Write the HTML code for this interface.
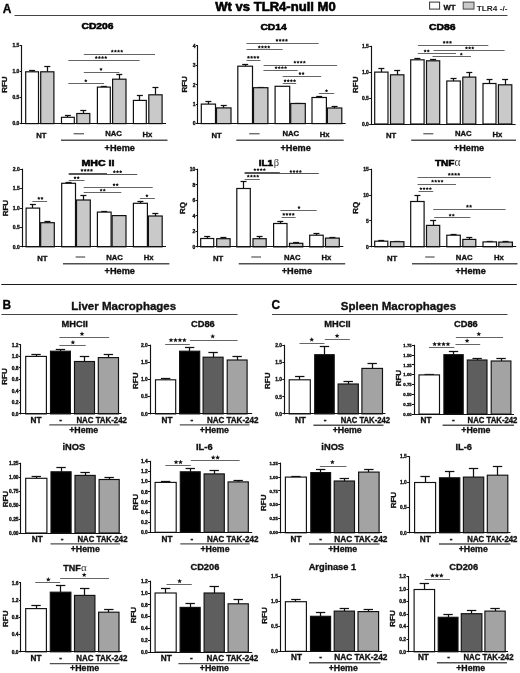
<!DOCTYPE html>
<html><head><meta charset="utf-8"><title>Figure</title>
<style>
html,body{margin:0;padding:0;background:#fff;}
body{width:520px;height:673px;overflow:hidden;font-family:"Liberation Sans",sans-serif;}
text{stroke:#111;stroke-width:0.34px;} text.h{stroke:#000;stroke-width:0.55px;} text.n{stroke-width:0.1px;} text.g{stroke:none;}
svg{display:block;font-family:"Liberation Sans",sans-serif;filter:blur(0.35px);}
</style></head><body>
<svg width="520" height="673" viewBox="0 0 520 673">
<rect x="0" y="0" width="520" height="673" fill="#ffffff"/>
<line x1="32.50" y1="71.80" x2="32.50" y2="70.00" stroke="#111" stroke-width="1.25"/>
<line x1="29.10" y1="70.50" x2="35.10" y2="70.50" stroke="#111" stroke-width="1.25"/>
<rect x="25.70" y="71.80" width="12.80" height="51.80" fill="#ffffff" stroke="#111" stroke-width="1.2"/>
<line x1="47.50" y1="71.80" x2="47.50" y2="66.80" stroke="#111" stroke-width="1.25"/>
<line x1="44.30" y1="66.50" x2="50.30" y2="66.50" stroke="#111" stroke-width="1.25"/>
<rect x="40.70" y="71.80" width="13.20" height="51.80" fill="#c9c9c9" stroke="#111" stroke-width="1.2"/>
<line x1="67.50" y1="117.30" x2="67.50" y2="115.50" stroke="#111" stroke-width="1.25"/>
<line x1="64.90" y1="115.50" x2="70.90" y2="115.50" stroke="#111" stroke-width="1.25"/>
<rect x="61.50" y="117.30" width="12.80" height="6.30" fill="#ffffff" stroke="#111" stroke-width="1.2"/>
<line x1="83.50" y1="113.50" x2="83.50" y2="110.30" stroke="#111" stroke-width="1.25"/>
<line x1="80.30" y1="110.50" x2="86.30" y2="110.50" stroke="#111" stroke-width="1.25"/>
<rect x="76.80" y="113.50" width="13.00" height="10.10" fill="#c9c9c9" stroke="#111" stroke-width="1.2"/>
<line x1="103.50" y1="87.10" x2="103.50" y2="86.20" stroke="#111" stroke-width="1.25"/>
<line x1="100.85" y1="86.50" x2="106.85" y2="86.50" stroke="#111" stroke-width="1.25"/>
<rect x="97.40" y="87.10" width="12.90" height="36.50" fill="#ffffff" stroke="#111" stroke-width="1.2"/>
<line x1="119.50" y1="79.20" x2="119.50" y2="74.60" stroke="#111" stroke-width="1.25"/>
<line x1="116.30" y1="74.50" x2="122.30" y2="74.50" stroke="#111" stroke-width="1.25"/>
<rect x="112.60" y="79.20" width="13.40" height="44.40" fill="#c9c9c9" stroke="#111" stroke-width="1.2"/>
<line x1="139.50" y1="100.40" x2="139.50" y2="95.80" stroke="#111" stroke-width="1.25"/>
<line x1="136.85" y1="95.50" x2="142.85" y2="95.50" stroke="#111" stroke-width="1.25"/>
<rect x="133.40" y="100.40" width="12.90" height="23.20" fill="#ffffff" stroke="#111" stroke-width="1.2"/>
<line x1="155.50" y1="94.80" x2="155.50" y2="87.70" stroke="#111" stroke-width="1.25"/>
<line x1="152.45" y1="87.50" x2="158.45" y2="87.50" stroke="#111" stroke-width="1.25"/>
<rect x="148.80" y="94.80" width="13.30" height="28.80" fill="#c9c9c9" stroke="#111" stroke-width="1.2"/>
<line x1="21.50" y1="45.10" x2="21.50" y2="124.10" stroke="#111" stroke-width="1.15"/>
<line x1="21.20" y1="123.50" x2="166.00" y2="123.50" stroke="#111" stroke-width="1.15"/>
<line x1="19.70" y1="45.50" x2="21.70" y2="45.50" stroke="#111" stroke-width="1.0"/>
<text x="19.40" y="47.40" font-size="5.0" text-anchor="end" font-weight="bold" fill="#111" >1.5</text>
<line x1="19.70" y1="71.50" x2="21.70" y2="71.50" stroke="#111" stroke-width="1.0"/>
<text x="19.40" y="73.40" font-size="5.0" text-anchor="end" font-weight="bold" fill="#111" >1.0</text>
<line x1="19.70" y1="97.50" x2="21.70" y2="97.50" stroke="#111" stroke-width="1.0"/>
<text x="19.40" y="99.40" font-size="5.0" text-anchor="end" font-weight="bold" fill="#111" >0.5</text>
<line x1="19.70" y1="123.50" x2="21.70" y2="123.50" stroke="#111" stroke-width="1.0"/>
<text x="19.40" y="125.40" font-size="5.0" text-anchor="end" font-weight="bold" fill="#111" >0.0</text>
<line x1="83.80" y1="54.50" x2="155.00" y2="54.50" stroke="#555555" stroke-width="0.9"/>
<polygon points="112.28,49.46 112.82,50.41 113.89,50.64 113.16,51.45 113.27,52.54 112.28,52.10 111.28,52.54 111.39,51.45 110.66,50.64 111.73,50.41" fill="#151515"/>
<polygon points="115.42,49.46 115.97,50.41 117.04,50.64 116.31,51.45 116.42,52.54 115.42,52.10 114.43,52.54 114.54,51.45 113.81,50.64 114.88,50.41" fill="#151515"/>
<polygon points="118.58,49.46 119.12,50.41 120.19,50.64 119.46,51.45 119.57,52.54 118.58,52.10 117.58,52.54 117.69,51.45 116.96,50.64 118.03,50.41" fill="#151515"/>
<polygon points="121.72,49.46 122.27,50.41 123.34,50.64 122.61,51.45 122.72,52.54 121.72,52.10 120.73,52.54 120.84,51.45 120.11,50.64 121.18,50.41" fill="#151515"/>
<line x1="68.30" y1="60.50" x2="139.60" y2="60.50" stroke="#555555" stroke-width="0.9"/>
<polygon points="96.28,55.86 96.82,56.81 97.89,57.04 97.16,57.85 97.27,58.94 96.28,58.50 95.28,58.94 95.39,57.85 94.66,57.04 95.73,56.81" fill="#151515"/>
<polygon points="99.42,55.86 99.97,56.81 101.04,57.04 100.31,57.85 100.42,58.94 99.42,58.50 98.43,58.94 98.54,57.85 97.81,57.04 98.88,56.81" fill="#151515"/>
<polygon points="102.58,55.86 103.12,56.81 104.19,57.04 103.46,57.85 103.57,58.94 102.58,58.50 101.58,58.94 101.69,57.85 100.96,57.04 102.03,56.81" fill="#151515"/>
<polygon points="105.72,55.86 106.27,56.81 107.34,57.04 106.61,57.85 106.72,58.94 105.72,58.50 104.73,58.94 104.84,57.85 104.11,57.04 105.18,56.81" fill="#151515"/>
<line x1="83.80" y1="72.50" x2="119.40" y2="72.50" stroke="#555555" stroke-width="0.9"/>
<polygon points="101.00,67.66 101.55,68.61 102.62,68.84 101.89,69.65 102.00,70.74 101.00,70.30 100.00,70.74 100.11,69.65 99.38,68.84 100.45,68.61" fill="#151515"/>
<line x1="68.30" y1="83.50" x2="104.00" y2="83.50" stroke="#555555" stroke-width="0.9"/>
<polygon points="85.80,79.06 86.35,80.01 87.42,80.24 86.69,81.05 86.80,82.14 85.80,81.70 84.80,82.14 84.91,81.05 84.18,80.24 85.25,80.01" fill="#151515"/>
<text x="81.50" y="29.40" font-size="9.2" text-anchor="start" font-weight="bold" fill="#000" class="h" textLength="32.0" lengthAdjust="spacingAndGlyphs">CD206</text>
<text transform="translate(7.41,84.60) rotate(-90)" font-size="8.0" text-anchor="middle" font-weight="bold" fill="#111">RFU</text>
<text x="41.30" y="137.70" font-size="7.7" text-anchor="middle" font-weight="bold" fill="#111">NT</text>
<line x1="73.60" y1="133.80" x2="84.00" y2="133.80" stroke="#333" stroke-width="1.0"/>
<text x="113.60" y="136.30" font-size="7.7" text-anchor="middle" font-weight="bold" fill="#111">NAC</text>
<text x="147.30" y="137.00" font-size="7.7" text-anchor="middle" font-weight="bold" fill="#111">Hx</text>
<line x1="61.00" y1="140.30" x2="167.50" y2="140.30" stroke="#505050" stroke-width="1.4"/>
<text x="119.80" y="151.10" font-size="9.2" text-anchor="middle" font-weight="bold" fill="#111" >+Heme</text>
<line x1="208.50" y1="104.10" x2="208.50" y2="101.50" stroke="#111" stroke-width="1.25"/>
<line x1="205.40" y1="101.50" x2="211.40" y2="101.50" stroke="#111" stroke-width="1.25"/>
<rect x="201.30" y="104.10" width="14.20" height="19.50" fill="#ffffff" stroke="#111" stroke-width="1.2"/>
<line x1="223.50" y1="107.90" x2="223.50" y2="105.60" stroke="#111" stroke-width="1.25"/>
<line x1="220.75" y1="105.50" x2="226.75" y2="105.50" stroke="#111" stroke-width="1.25"/>
<rect x="216.50" y="107.90" width="14.50" height="15.70" fill="#c9c9c9" stroke="#111" stroke-width="1.2"/>
<line x1="245.50" y1="66.20" x2="245.50" y2="64.90" stroke="#111" stroke-width="1.25"/>
<line x1="242.15" y1="64.50" x2="248.15" y2="64.50" stroke="#111" stroke-width="1.25"/>
<rect x="237.80" y="66.20" width="14.70" height="57.40" fill="#ffffff" stroke="#111" stroke-width="1.2"/>
<line x1="260.50" y1="87.70" x2="260.50" y2="87.10" stroke="#111" stroke-width="1.25"/>
<line x1="257.70" y1="87.50" x2="263.70" y2="87.50" stroke="#111" stroke-width="1.25"/>
<rect x="253.50" y="87.70" width="14.40" height="35.90" fill="#c9c9c9" stroke="#111" stroke-width="1.2"/>
<rect x="275.10" y="86.30" width="14.60" height="37.30" fill="#ffffff" stroke="#111" stroke-width="1.2"/>
<line x1="298.50" y1="103.50" x2="298.50" y2="103.00" stroke="#111" stroke-width="1.25"/>
<line x1="295.00" y1="103.50" x2="301.00" y2="103.50" stroke="#111" stroke-width="1.25"/>
<rect x="290.70" y="103.50" width="14.60" height="20.10" fill="#c9c9c9" stroke="#111" stroke-width="1.2"/>
<line x1="319.50" y1="97.50" x2="319.50" y2="96.30" stroke="#111" stroke-width="1.25"/>
<line x1="316.20" y1="96.50" x2="322.20" y2="96.50" stroke="#111" stroke-width="1.25"/>
<rect x="312.00" y="97.50" width="14.40" height="26.10" fill="#ffffff" stroke="#111" stroke-width="1.2"/>
<line x1="334.50" y1="108.00" x2="334.50" y2="106.30" stroke="#111" stroke-width="1.25"/>
<line x1="331.60" y1="106.50" x2="337.60" y2="106.50" stroke="#111" stroke-width="1.25"/>
<rect x="327.40" y="108.00" width="14.40" height="15.60" fill="#c9c9c9" stroke="#111" stroke-width="1.2"/>
<line x1="197.50" y1="45.30" x2="197.50" y2="124.10" stroke="#111" stroke-width="1.15"/>
<line x1="197.40" y1="123.50" x2="345.60" y2="123.50" stroke="#111" stroke-width="1.15"/>
<line x1="195.90" y1="45.50" x2="197.90" y2="45.50" stroke="#111" stroke-width="1.0"/>
<text x="195.60" y="47.60" font-size="5.0" text-anchor="end" font-weight="bold" fill="#111" >4</text>
<line x1="195.90" y1="65.50" x2="197.90" y2="65.50" stroke="#111" stroke-width="1.0"/>
<text x="195.60" y="67.05" font-size="5.0" text-anchor="end" font-weight="bold" fill="#111" >3</text>
<line x1="195.90" y1="84.50" x2="197.90" y2="84.50" stroke="#111" stroke-width="1.0"/>
<text x="195.60" y="86.50" font-size="5.0" text-anchor="end" font-weight="bold" fill="#111" >2</text>
<line x1="195.90" y1="104.50" x2="197.90" y2="104.50" stroke="#111" stroke-width="1.0"/>
<text x="195.60" y="105.95" font-size="5.0" text-anchor="end" font-weight="bold" fill="#111" >1</text>
<line x1="195.90" y1="123.50" x2="197.90" y2="123.50" stroke="#111" stroke-width="1.0"/>
<text x="195.60" y="125.40" font-size="5.0" text-anchor="end" font-weight="bold" fill="#111" >0</text>
<line x1="246.50" y1="43.50" x2="318.70" y2="43.50" stroke="#555555" stroke-width="0.9"/>
<polygon points="276.97,38.66 277.52,39.61 278.59,39.84 277.86,40.65 277.97,41.74 276.97,41.30 275.98,41.74 276.09,40.65 275.36,39.84 276.43,39.61" fill="#151515"/>
<polygon points="280.12,38.66 280.67,39.61 281.74,39.84 281.01,40.65 281.12,41.74 280.12,41.30 279.13,41.74 279.24,40.65 278.51,39.84 279.58,39.61" fill="#151515"/>
<polygon points="283.27,38.66 283.82,39.61 284.89,39.84 284.16,40.65 284.27,41.74 283.27,41.30 282.28,41.74 282.39,40.65 281.66,39.84 282.73,39.61" fill="#151515"/>
<polygon points="286.43,38.66 286.97,39.61 288.04,39.84 287.31,40.65 287.42,41.74 286.43,41.30 285.43,41.74 285.54,40.65 284.81,39.84 285.88,39.61" fill="#151515"/>
<line x1="246.50" y1="49.50" x2="282.70" y2="49.50" stroke="#555555" stroke-width="0.9"/>
<polygon points="259.27,45.36 259.82,46.31 260.89,46.54 260.16,47.35 260.27,48.44 259.27,48.00 258.28,48.44 258.39,47.35 257.66,46.54 258.73,46.31" fill="#151515"/>
<polygon points="262.43,45.36 262.97,46.31 264.04,46.54 263.31,47.35 263.42,48.44 262.43,48.00 261.43,48.44 261.54,47.35 260.81,46.54 261.88,46.31" fill="#151515"/>
<polygon points="265.57,45.36 266.12,46.31 267.19,46.54 266.46,47.35 266.57,48.44 265.57,48.00 264.58,48.44 264.69,47.35 263.96,46.54 265.03,46.31" fill="#151515"/>
<polygon points="268.73,45.36 269.27,46.31 270.34,46.54 269.61,47.35 269.72,48.44 268.73,48.00 267.73,48.44 267.84,47.35 267.11,46.54 268.18,46.31" fill="#151515"/>
<line x1="246.50" y1="60.50" x2="260.50" y2="60.50" stroke="#555555" stroke-width="0.9"/>
<polygon points="248.47,55.66 249.02,56.61 250.09,56.84 249.36,57.65 249.47,58.74 248.47,58.30 247.48,58.74 247.59,57.65 246.86,56.84 247.93,56.61" fill="#151515"/>
<polygon points="251.62,55.66 252.17,56.61 253.24,56.84 252.51,57.65 252.62,58.74 251.62,58.30 250.63,58.74 250.74,57.65 250.01,56.84 251.08,56.61" fill="#151515"/>
<polygon points="254.77,55.66 255.32,56.61 256.39,56.84 255.66,57.65 255.77,58.74 254.77,58.30 253.78,58.74 253.89,57.65 253.16,56.84 254.23,56.61" fill="#151515"/>
<polygon points="257.93,55.66 258.47,56.61 259.54,56.84 258.81,57.65 258.92,58.74 257.93,58.30 256.93,58.74 257.04,57.65 256.31,56.84 257.38,56.61" fill="#151515"/>
<line x1="263.60" y1="65.50" x2="337.10" y2="65.50" stroke="#555555" stroke-width="0.9"/>
<polygon points="294.88,60.46 295.42,61.41 296.49,61.64 295.76,62.45 295.87,63.54 294.88,63.10 293.88,63.54 293.99,62.45 293.26,61.64 294.33,61.41" fill="#151515"/>
<polygon points="298.03,60.46 298.57,61.41 299.64,61.64 298.91,62.45 299.02,63.54 298.03,63.10 297.03,63.54 297.14,62.45 296.41,61.64 297.48,61.41" fill="#151515"/>
<polygon points="301.18,60.46 301.72,61.41 302.79,61.64 302.06,62.45 302.17,63.54 301.18,63.10 300.18,63.54 300.29,62.45 299.56,61.64 300.63,61.41" fill="#151515"/>
<polygon points="304.33,60.46 304.87,61.41 305.94,61.64 305.21,62.45 305.32,63.54 304.33,63.10 303.33,63.54 303.44,62.45 302.71,61.64 303.78,61.41" fill="#151515"/>
<line x1="263.40" y1="70.50" x2="297.70" y2="70.50" stroke="#555555" stroke-width="0.9"/>
<polygon points="276.07,65.96 276.62,66.91 277.69,67.14 276.96,67.95 277.07,69.04 276.07,68.60 275.08,69.04 275.19,67.95 274.46,67.14 275.53,66.91" fill="#151515"/>
<polygon points="279.23,65.96 279.77,66.91 280.84,67.14 280.11,67.95 280.22,69.04 279.23,68.60 278.23,69.04 278.34,67.95 277.61,67.14 278.68,66.91" fill="#151515"/>
<polygon points="282.38,65.96 282.92,66.91 283.99,67.14 283.26,67.95 283.37,69.04 282.38,68.60 281.38,69.04 281.49,67.95 280.76,67.14 281.83,66.91" fill="#151515"/>
<polygon points="285.53,65.96 286.07,66.91 287.14,67.14 286.41,67.95 286.52,69.04 285.53,68.60 284.53,69.04 284.64,67.95 283.91,67.14 284.98,66.91" fill="#151515"/>
<line x1="282.70" y1="76.50" x2="321.20" y2="76.50" stroke="#555555" stroke-width="0.9"/>
<polygon points="299.93,71.86 300.47,72.81 301.54,73.04 300.81,73.85 300.92,74.94 299.93,74.50 298.93,74.94 299.04,73.85 298.31,73.04 299.38,72.81" fill="#151515"/>
<polygon points="303.07,71.86 303.62,72.81 304.69,73.04 303.96,73.85 304.07,74.94 303.07,74.50 302.08,74.94 302.19,73.85 301.46,73.04 302.53,72.81" fill="#151515"/>
<line x1="282.70" y1="83.50" x2="296.20" y2="83.50" stroke="#555555" stroke-width="0.9"/>
<polygon points="285.07,79.06 285.62,80.01 286.69,80.24 285.96,81.05 286.07,82.14 285.07,81.70 284.08,82.14 284.19,81.05 283.46,80.24 284.53,80.01" fill="#151515"/>
<polygon points="288.23,79.06 288.77,80.01 289.84,80.24 289.11,81.05 289.22,82.14 288.23,81.70 287.23,82.14 287.34,81.05 286.61,80.24 287.68,80.01" fill="#151515"/>
<polygon points="291.38,79.06 291.92,80.01 292.99,80.24 292.26,81.05 292.37,82.14 291.38,81.70 290.38,82.14 290.49,81.05 289.76,80.24 290.83,80.01" fill="#151515"/>
<polygon points="294.53,79.06 295.07,80.01 296.14,80.24 295.41,81.05 295.52,82.14 294.53,81.70 293.53,82.14 293.64,81.05 292.91,80.24 293.98,80.01" fill="#151515"/>
<line x1="318.80" y1="93.50" x2="334.20" y2="93.50" stroke="#555555" stroke-width="0.9"/>
<polygon points="326.50,89.06 327.05,90.01 328.12,90.24 327.39,91.05 327.50,92.14 326.50,91.70 325.50,92.14 325.61,91.05 324.88,90.24 325.95,90.01" fill="#151515"/>
<text x="260.40" y="30.20" font-size="9.2" text-anchor="start" font-weight="bold" fill="#000" class="h" textLength="26.4" lengthAdjust="spacingAndGlyphs">CD14</text>
<text transform="translate(187.06,84.40) rotate(-90)" font-size="8.0" text-anchor="middle" font-weight="bold" fill="#111">RFU</text>
<text x="216.70" y="137.70" font-size="7.7" text-anchor="middle" font-weight="bold" fill="#111">NT</text>
<line x1="249.20" y1="133.80" x2="259.60" y2="133.80" stroke="#333" stroke-width="1.0"/>
<text x="290.80" y="136.30" font-size="7.7" text-anchor="middle" font-weight="bold" fill="#111">NAC</text>
<text x="324.60" y="137.00" font-size="7.7" text-anchor="middle" font-weight="bold" fill="#111">Hx</text>
<line x1="236.30" y1="140.30" x2="343.70" y2="140.30" stroke="#505050" stroke-width="1.4"/>
<text x="295.60" y="151.10" font-size="9.2" text-anchor="middle" font-weight="bold" fill="#111" >+Heme</text>
<line x1="381.50" y1="72.10" x2="381.50" y2="68.80" stroke="#111" stroke-width="1.25"/>
<line x1="378.35" y1="68.50" x2="384.35" y2="68.50" stroke="#111" stroke-width="1.25"/>
<rect x="374.70" y="72.10" width="13.30" height="51.90" fill="#ffffff" stroke="#111" stroke-width="1.2"/>
<line x1="397.50" y1="74.80" x2="397.50" y2="70.40" stroke="#111" stroke-width="1.25"/>
<line x1="394.20" y1="70.50" x2="400.20" y2="70.50" stroke="#111" stroke-width="1.25"/>
<rect x="390.50" y="74.80" width="13.40" height="49.20" fill="#c9c9c9" stroke="#111" stroke-width="1.2"/>
<line x1="417.50" y1="59.80" x2="417.50" y2="58.40" stroke="#111" stroke-width="1.25"/>
<line x1="414.40" y1="58.50" x2="420.40" y2="58.50" stroke="#111" stroke-width="1.25"/>
<rect x="410.70" y="59.80" width="13.40" height="64.20" fill="#ffffff" stroke="#111" stroke-width="1.2"/>
<line x1="433.50" y1="60.80" x2="433.50" y2="59.20" stroke="#111" stroke-width="1.25"/>
<line x1="430.10" y1="59.50" x2="436.10" y2="59.50" stroke="#111" stroke-width="1.25"/>
<rect x="426.50" y="60.80" width="13.20" height="63.20" fill="#c9c9c9" stroke="#111" stroke-width="1.2"/>
<line x1="453.50" y1="81.00" x2="453.50" y2="78.10" stroke="#111" stroke-width="1.25"/>
<line x1="450.55" y1="78.50" x2="456.55" y2="78.50" stroke="#111" stroke-width="1.25"/>
<rect x="446.80" y="81.00" width="13.50" height="43.00" fill="#ffffff" stroke="#111" stroke-width="1.2"/>
<line x1="469.50" y1="77.10" x2="469.50" y2="72.70" stroke="#111" stroke-width="1.25"/>
<line x1="466.30" y1="72.50" x2="472.30" y2="72.50" stroke="#111" stroke-width="1.25"/>
<rect x="462.80" y="77.10" width="13.00" height="46.90" fill="#c9c9c9" stroke="#111" stroke-width="1.2"/>
<line x1="489.50" y1="83.50" x2="489.50" y2="79.00" stroke="#111" stroke-width="1.25"/>
<line x1="486.50" y1="79.50" x2="492.50" y2="79.50" stroke="#111" stroke-width="1.25"/>
<rect x="483.00" y="83.50" width="13.00" height="40.50" fill="#ffffff" stroke="#111" stroke-width="1.2"/>
<line x1="505.50" y1="84.80" x2="505.50" y2="79.60" stroke="#111" stroke-width="1.25"/>
<line x1="502.10" y1="79.50" x2="508.10" y2="79.50" stroke="#111" stroke-width="1.25"/>
<rect x="498.40" y="84.80" width="13.40" height="39.20" fill="#c9c9c9" stroke="#111" stroke-width="1.2"/>
<line x1="371.50" y1="45.80" x2="371.50" y2="124.50" stroke="#111" stroke-width="1.15"/>
<line x1="370.70" y1="124.50" x2="515.60" y2="124.50" stroke="#111" stroke-width="1.15"/>
<line x1="369.20" y1="46.50" x2="371.20" y2="46.50" stroke="#111" stroke-width="1.0"/>
<text x="368.90" y="48.10" font-size="5.0" text-anchor="end" font-weight="bold" fill="#111" >1.5</text>
<line x1="369.20" y1="72.50" x2="371.20" y2="72.50" stroke="#111" stroke-width="1.0"/>
<text x="368.90" y="74.00" font-size="5.0" text-anchor="end" font-weight="bold" fill="#111" >1.0</text>
<line x1="369.20" y1="98.50" x2="371.20" y2="98.50" stroke="#111" stroke-width="1.0"/>
<text x="368.90" y="99.90" font-size="5.0" text-anchor="end" font-weight="bold" fill="#111" >0.5</text>
<line x1="369.20" y1="124.50" x2="371.20" y2="124.50" stroke="#111" stroke-width="1.0"/>
<text x="368.90" y="125.80" font-size="5.0" text-anchor="end" font-weight="bold" fill="#111" >0.0</text>
<line x1="417.90" y1="45.50" x2="488.30" y2="45.50" stroke="#555555" stroke-width="0.9"/>
<polygon points="444.15,40.66 444.70,41.61 445.77,41.84 445.04,42.65 445.15,43.74 444.15,43.30 443.15,43.74 443.26,42.65 442.53,41.84 443.60,41.61" fill="#151515"/>
<polygon points="447.30,40.66 447.85,41.61 448.92,41.84 448.19,42.65 448.30,43.74 447.30,43.30 446.30,43.74 446.41,42.65 445.68,41.84 446.75,41.61" fill="#151515"/>
<polygon points="450.45,40.66 451.00,41.61 452.07,41.84 451.34,42.65 451.45,43.74 450.45,43.30 449.45,43.74 449.56,42.65 448.83,41.84 449.90,41.61" fill="#151515"/>
<line x1="433.50" y1="50.50" x2="504.60" y2="50.50" stroke="#555555" stroke-width="0.9"/>
<polygon points="466.45,46.26 467.00,47.21 468.07,47.44 467.34,48.25 467.45,49.34 466.45,48.90 465.45,49.34 465.56,48.25 464.83,47.44 465.90,47.21" fill="#151515"/>
<polygon points="469.60,46.26 470.15,47.21 471.22,47.44 470.49,48.25 470.60,49.34 469.60,48.90 468.60,49.34 468.71,48.25 467.98,47.44 469.05,47.21" fill="#151515"/>
<polygon points="472.75,46.26 473.30,47.21 474.37,47.44 473.64,48.25 473.75,49.34 472.75,48.90 471.75,49.34 471.86,48.25 471.13,47.44 472.20,47.21" fill="#151515"/>
<line x1="417.90" y1="53.50" x2="456.00" y2="53.50" stroke="#555555" stroke-width="0.9"/>
<polygon points="425.12,49.26 425.67,50.21 426.74,50.44 426.01,51.25 426.12,52.34 425.12,51.90 424.13,52.34 424.24,51.25 423.51,50.44 424.58,50.21" fill="#151515"/>
<polygon points="428.27,49.26 428.82,50.21 429.89,50.44 429.16,51.25 429.27,52.34 428.27,51.90 427.28,52.34 427.39,51.25 426.66,50.44 427.73,50.21" fill="#151515"/>
<line x1="432.50" y1="56.50" x2="471.00" y2="56.50" stroke="#555555" stroke-width="0.9"/>
<polygon points="461.30,52.46 461.85,53.41 462.92,53.64 462.19,54.45 462.30,55.54 461.30,55.10 460.30,55.54 460.41,54.45 459.68,53.64 460.75,53.41" fill="#151515"/>
<text x="429.00" y="29.90" font-size="9.2" text-anchor="start" font-weight="bold" fill="#000" class="h" textLength="26.6" lengthAdjust="spacingAndGlyphs">CD86</text>
<text transform="translate(357.66,84.80) rotate(-90)" font-size="8.0" text-anchor="middle" font-weight="bold" fill="#111">RFU</text>
<text x="391.00" y="137.70" font-size="7.7" text-anchor="middle" font-weight="bold" fill="#111">NT</text>
<line x1="423.30" y1="133.80" x2="433.30" y2="133.80" stroke="#333" stroke-width="1.0"/>
<text x="463.30" y="136.30" font-size="7.7" text-anchor="middle" font-weight="bold" fill="#111">NAC</text>
<text x="497.30" y="137.00" font-size="7.7" text-anchor="middle" font-weight="bold" fill="#111">Hx</text>
<line x1="411.20" y1="140.30" x2="516.00" y2="140.30" stroke="#505050" stroke-width="1.4"/>
<text x="469.00" y="151.10" font-size="9.2" text-anchor="middle" font-weight="bold" fill="#111" >+Heme</text>
<line x1="32.50" y1="208.10" x2="32.50" y2="204.40" stroke="#111" stroke-width="1.25"/>
<line x1="29.88" y1="204.50" x2="35.88" y2="204.50" stroke="#111" stroke-width="1.25"/>
<rect x="26.10" y="208.10" width="13.55" height="38.70" fill="#ffffff" stroke="#111" stroke-width="1.2"/>
<line x1="47.50" y1="222.70" x2="47.50" y2="221.30" stroke="#111" stroke-width="1.25"/>
<line x1="44.47" y1="221.50" x2="50.47" y2="221.50" stroke="#111" stroke-width="1.25"/>
<rect x="40.65" y="222.70" width="13.65" height="24.10" fill="#c9c9c9" stroke="#111" stroke-width="1.2"/>
<line x1="68.50" y1="183.30" x2="68.50" y2="182.70" stroke="#111" stroke-width="1.25"/>
<line x1="65.60" y1="182.50" x2="71.60" y2="182.50" stroke="#111" stroke-width="1.25"/>
<rect x="61.70" y="183.30" width="13.80" height="63.50" fill="#ffffff" stroke="#111" stroke-width="1.2"/>
<line x1="83.50" y1="200.00" x2="83.50" y2="195.80" stroke="#111" stroke-width="1.25"/>
<line x1="80.40" y1="195.50" x2="86.40" y2="195.50" stroke="#111" stroke-width="1.25"/>
<rect x="76.50" y="200.00" width="13.80" height="46.80" fill="#c9c9c9" stroke="#111" stroke-width="1.2"/>
<line x1="104.50" y1="212.10" x2="104.50" y2="211.70" stroke="#111" stroke-width="1.25"/>
<line x1="101.25" y1="211.50" x2="107.25" y2="211.50" stroke="#111" stroke-width="1.25"/>
<rect x="97.40" y="212.10" width="13.70" height="34.70" fill="#ffffff" stroke="#111" stroke-width="1.2"/>
<rect x="112.10" y="215.60" width="13.90" height="31.20" fill="#c9c9c9" stroke="#111" stroke-width="1.2"/>
<line x1="140.50" y1="203.30" x2="140.50" y2="201.20" stroke="#111" stroke-width="1.25"/>
<line x1="137.40" y1="201.50" x2="143.40" y2="201.50" stroke="#111" stroke-width="1.25"/>
<rect x="133.40" y="203.30" width="14.00" height="43.50" fill="#ffffff" stroke="#111" stroke-width="1.2"/>
<line x1="155.50" y1="216.00" x2="155.50" y2="213.80" stroke="#111" stroke-width="1.25"/>
<line x1="152.30" y1="213.50" x2="158.30" y2="213.50" stroke="#111" stroke-width="1.25"/>
<rect x="148.40" y="216.00" width="13.80" height="30.80" fill="#c9c9c9" stroke="#111" stroke-width="1.2"/>
<line x1="22.50" y1="168.70" x2="22.50" y2="247.30" stroke="#111" stroke-width="1.15"/>
<line x1="21.60" y1="246.50" x2="166.00" y2="246.50" stroke="#111" stroke-width="1.15"/>
<line x1="20.10" y1="169.50" x2="22.10" y2="169.50" stroke="#111" stroke-width="1.0"/>
<text x="19.80" y="171.00" font-size="5.0" text-anchor="end" font-weight="bold" fill="#111" >2.0</text>
<line x1="20.10" y1="188.50" x2="22.10" y2="188.50" stroke="#111" stroke-width="1.0"/>
<text x="19.80" y="190.40" font-size="5.0" text-anchor="end" font-weight="bold" fill="#111" >1.5</text>
<line x1="20.10" y1="208.50" x2="22.10" y2="208.50" stroke="#111" stroke-width="1.0"/>
<text x="19.80" y="209.80" font-size="5.0" text-anchor="end" font-weight="bold" fill="#111" >1.0</text>
<line x1="20.10" y1="227.50" x2="22.10" y2="227.50" stroke="#111" stroke-width="1.0"/>
<text x="19.80" y="229.20" font-size="5.0" text-anchor="end" font-weight="bold" fill="#111" >0.5</text>
<line x1="20.10" y1="246.50" x2="22.10" y2="246.50" stroke="#111" stroke-width="1.0"/>
<text x="19.80" y="248.60" font-size="5.0" text-anchor="end" font-weight="bold" fill="#111" >0.0</text>
<line x1="32.30" y1="201.50" x2="47.10" y2="201.50" stroke="#555555" stroke-width="0.9"/>
<polygon points="38.82,196.66 39.37,197.61 40.44,197.84 39.71,198.65 39.82,199.74 38.82,199.30 37.83,199.74 37.94,198.65 37.21,197.84 38.28,197.61" fill="#151515"/>
<polygon points="41.98,196.66 42.52,197.61 43.59,197.84 42.86,198.65 42.97,199.74 41.98,199.30 40.98,199.74 41.09,198.65 40.36,197.84 41.43,197.61" fill="#151515"/>
<line x1="68.70" y1="173.50" x2="107.00" y2="173.50" stroke="#555555" stroke-width="1.0"/>
<polygon points="81.98,168.66 82.52,169.61 83.59,169.84 82.86,170.65 82.97,171.74 81.98,171.30 80.98,171.74 81.09,170.65 80.36,169.84 81.43,169.61" fill="#151515"/>
<polygon points="85.12,168.66 85.67,169.61 86.74,169.84 86.01,170.65 86.12,171.74 85.12,171.30 84.13,171.74 84.24,170.65 83.51,169.84 84.58,169.61" fill="#151515"/>
<polygon points="88.28,168.66 88.82,169.61 89.89,169.84 89.16,170.65 89.27,171.74 88.28,171.30 87.28,171.74 87.39,170.65 86.66,169.84 87.73,169.61" fill="#151515"/>
<polygon points="91.42,168.66 91.97,169.61 93.04,169.84 92.31,170.65 92.42,171.74 91.42,171.30 90.43,171.74 90.54,170.65 89.81,169.84 90.88,169.61" fill="#151515"/>
<line x1="68.70" y1="174.50" x2="137.30" y2="174.50" stroke="#555555" stroke-width="1.0"/>
<polygon points="114.35,170.06 114.90,171.01 115.97,171.24 115.24,172.05 115.35,173.14 114.35,172.70 113.35,173.14 113.46,172.05 112.73,171.24 113.80,171.01" fill="#151515"/>
<polygon points="117.50,170.06 118.05,171.01 119.12,171.24 118.39,172.05 118.50,173.14 117.50,172.70 116.50,173.14 116.61,172.05 115.88,171.24 116.95,171.01" fill="#151515"/>
<polygon points="120.65,170.06 121.20,171.01 122.27,171.24 121.54,172.05 121.65,173.14 120.65,172.70 119.65,173.14 119.76,172.05 119.03,171.24 120.10,171.01" fill="#151515"/>
<line x1="68.70" y1="180.50" x2="84.50" y2="180.50" stroke="#555555" stroke-width="0.9"/>
<polygon points="75.02,176.06 75.57,177.01 76.64,177.24 75.91,178.05 76.02,179.14 75.02,178.70 74.03,179.14 74.14,178.05 73.41,177.24 74.48,177.01" fill="#151515"/>
<polygon points="78.17,176.06 78.72,177.01 79.79,177.24 79.06,178.05 79.17,179.14 78.17,178.70 77.18,179.14 77.29,178.05 76.56,177.24 77.63,177.01" fill="#151515"/>
<line x1="83.70" y1="187.50" x2="152.70" y2="187.50" stroke="#555555" stroke-width="0.9"/>
<polygon points="114.02,183.06 114.57,184.01 115.64,184.24 114.91,185.05 115.02,186.14 114.02,185.70 113.03,186.14 113.14,185.05 112.41,184.24 113.48,184.01" fill="#151515"/>
<polygon points="117.17,183.06 117.72,184.01 118.79,184.24 118.06,185.05 118.17,186.14 117.17,185.70 116.18,186.14 116.29,185.05 115.56,184.24 116.63,184.01" fill="#151515"/>
<line x1="83.70" y1="192.50" x2="121.30" y2="192.50" stroke="#555555" stroke-width="0.9"/>
<polygon points="101.12,188.46 101.67,189.41 102.74,189.64 102.01,190.45 102.12,191.54 101.12,191.10 100.13,191.54 100.24,190.45 99.51,189.64 100.58,189.41" fill="#151515"/>
<polygon points="104.28,188.46 104.82,189.41 105.89,189.64 105.16,190.45 105.27,191.54 104.28,191.10 103.28,191.54 103.39,190.45 102.66,189.64 103.73,189.41" fill="#151515"/>
<line x1="139.90" y1="198.50" x2="154.90" y2="198.50" stroke="#555555" stroke-width="0.9"/>
<polygon points="146.90,194.06 147.45,195.01 148.52,195.24 147.79,196.05 147.90,197.14 146.90,196.70 145.90,197.14 146.01,196.05 145.28,195.24 146.35,195.01" fill="#151515"/>
<text x="81.50" y="166.20" font-size="8.8" text-anchor="start" font-weight="bold" fill="#000" class="h" textLength="33.0" lengthAdjust="spacingAndGlyphs">MHC II</text>
<text transform="translate(7.96,208.10) rotate(-90)" font-size="8.0" text-anchor="middle" font-weight="bold" fill="#111">RFU</text>
<text x="42.30" y="261.00" font-size="7.7" text-anchor="middle" font-weight="bold" fill="#111">NT</text>
<line x1="75.60" y1="257.00" x2="85.20" y2="257.00" stroke="#333" stroke-width="1.0"/>
<text x="114.60" y="259.60" font-size="7.7" text-anchor="middle" font-weight="bold" fill="#111">NAC</text>
<text x="148.70" y="260.20" font-size="7.7" text-anchor="middle" font-weight="bold" fill="#111">Hx</text>
<line x1="63.00" y1="263.80" x2="169.40" y2="263.80" stroke="#505050" stroke-width="1.4"/>
<text x="119.80" y="274.30" font-size="9.2" text-anchor="middle" font-weight="bold" fill="#111" >+Heme</text>
<line x1="207.50" y1="238.50" x2="207.50" y2="236.50" stroke="#111" stroke-width="1.25"/>
<line x1="204.20" y1="236.50" x2="210.20" y2="236.50" stroke="#111" stroke-width="1.25"/>
<rect x="200.70" y="238.50" width="13.00" height="8.40" fill="#ffffff" stroke="#111" stroke-width="1.2"/>
<line x1="223.50" y1="238.70" x2="223.50" y2="237.70" stroke="#111" stroke-width="1.25"/>
<line x1="220.40" y1="237.50" x2="226.40" y2="237.50" stroke="#111" stroke-width="1.25"/>
<rect x="216.70" y="238.70" width="13.40" height="8.20" fill="#c9c9c9" stroke="#111" stroke-width="1.2"/>
<line x1="243.50" y1="188.50" x2="243.50" y2="181.20" stroke="#111" stroke-width="1.25"/>
<line x1="240.55" y1="181.50" x2="246.55" y2="181.50" stroke="#111" stroke-width="1.25"/>
<rect x="236.80" y="188.50" width="13.50" height="58.40" fill="#ffffff" stroke="#111" stroke-width="1.2"/>
<line x1="259.50" y1="238.70" x2="259.50" y2="236.20" stroke="#111" stroke-width="1.25"/>
<line x1="256.60" y1="236.50" x2="262.60" y2="236.50" stroke="#111" stroke-width="1.25"/>
<rect x="253.00" y="238.70" width="13.20" height="8.20" fill="#c9c9c9" stroke="#111" stroke-width="1.2"/>
<line x1="280.50" y1="223.50" x2="280.50" y2="221.20" stroke="#111" stroke-width="1.25"/>
<line x1="277.30" y1="221.50" x2="283.30" y2="221.50" stroke="#111" stroke-width="1.25"/>
<rect x="273.60" y="223.50" width="13.40" height="23.40" fill="#ffffff" stroke="#111" stroke-width="1.2"/>
<line x1="296.50" y1="243.30" x2="296.50" y2="242.50" stroke="#111" stroke-width="1.25"/>
<line x1="293.15" y1="242.50" x2="299.15" y2="242.50" stroke="#111" stroke-width="1.25"/>
<rect x="289.50" y="243.30" width="13.30" height="3.60" fill="#c9c9c9" stroke="#111" stroke-width="1.2"/>
<line x1="316.50" y1="235.20" x2="316.50" y2="233.70" stroke="#111" stroke-width="1.25"/>
<line x1="313.45" y1="233.50" x2="319.45" y2="233.50" stroke="#111" stroke-width="1.25"/>
<rect x="309.70" y="235.20" width="13.50" height="11.70" fill="#ffffff" stroke="#111" stroke-width="1.2"/>
<line x1="332.50" y1="238.10" x2="332.50" y2="237.50" stroke="#111" stroke-width="1.25"/>
<line x1="329.40" y1="237.50" x2="335.40" y2="237.50" stroke="#111" stroke-width="1.25"/>
<rect x="325.50" y="238.10" width="13.80" height="8.80" fill="#c9c9c9" stroke="#111" stroke-width="1.2"/>
<line x1="197.50" y1="168.70" x2="197.50" y2="247.40" stroke="#111" stroke-width="1.15"/>
<line x1="197.00" y1="246.50" x2="343.30" y2="246.50" stroke="#111" stroke-width="1.15"/>
<line x1="195.50" y1="169.50" x2="197.50" y2="169.50" stroke="#111" stroke-width="1.0"/>
<text x="195.20" y="171.00" font-size="5.0" text-anchor="end" font-weight="bold" fill="#111" >10</text>
<line x1="195.50" y1="184.50" x2="197.50" y2="184.50" stroke="#111" stroke-width="1.0"/>
<text x="195.20" y="186.54" font-size="5.0" text-anchor="end" font-weight="bold" fill="#111" >8</text>
<line x1="195.50" y1="200.50" x2="197.50" y2="200.50" stroke="#111" stroke-width="1.0"/>
<text x="195.20" y="202.08" font-size="5.0" text-anchor="end" font-weight="bold" fill="#111" >6</text>
<line x1="195.50" y1="215.50" x2="197.50" y2="215.50" stroke="#111" stroke-width="1.0"/>
<text x="195.20" y="217.62" font-size="5.0" text-anchor="end" font-weight="bold" fill="#111" >4</text>
<line x1="195.50" y1="231.50" x2="197.50" y2="231.50" stroke="#111" stroke-width="1.0"/>
<text x="195.20" y="233.16" font-size="5.0" text-anchor="end" font-weight="bold" fill="#111" >2</text>
<line x1="195.50" y1="246.50" x2="197.50" y2="246.50" stroke="#111" stroke-width="1.0"/>
<text x="195.20" y="248.70" font-size="5.0" text-anchor="end" font-weight="bold" fill="#111" >0</text>
<line x1="244.60" y1="172.50" x2="279.80" y2="172.50" stroke="#555555" stroke-width="1.0"/>
<polygon points="254.88,167.96 255.42,168.91 256.49,169.14 255.76,169.95 255.87,171.04 254.88,170.60 253.88,171.04 253.99,169.95 253.26,169.14 254.33,168.91" fill="#151515"/>
<polygon points="258.03,167.96 258.57,168.91 259.64,169.14 258.91,169.95 259.02,171.04 258.03,170.60 257.03,171.04 257.14,169.95 256.41,169.14 257.48,168.91" fill="#151515"/>
<polygon points="261.18,167.96 261.72,168.91 262.79,169.14 262.06,169.95 262.17,171.04 261.18,170.60 260.18,171.04 260.29,169.95 259.56,169.14 260.63,168.91" fill="#151515"/>
<polygon points="264.33,167.96 264.87,168.91 265.94,169.14 265.21,169.95 265.32,171.04 264.33,170.60 263.33,171.04 263.44,169.95 262.71,169.14 263.78,168.91" fill="#151515"/>
<line x1="244.60" y1="173.50" x2="318.80" y2="173.50" stroke="#555555" stroke-width="1.0"/>
<polygon points="290.88,169.76 291.42,170.71 292.49,170.94 291.76,171.75 291.87,172.84 290.88,172.40 289.88,172.84 289.99,171.75 289.26,170.94 290.33,170.71" fill="#151515"/>
<polygon points="294.03,169.76 294.57,170.71 295.64,170.94 294.91,171.75 295.02,172.84 294.03,172.40 293.03,172.84 293.14,171.75 292.41,170.94 293.48,170.71" fill="#151515"/>
<polygon points="297.18,169.76 297.72,170.71 298.79,170.94 298.06,171.75 298.17,172.84 297.18,172.40 296.18,172.84 296.29,171.75 295.56,170.94 296.63,170.71" fill="#151515"/>
<polygon points="300.33,169.76 300.87,170.71 301.94,170.94 301.21,171.75 301.32,172.84 300.33,172.40 299.33,172.84 299.44,171.75 298.71,170.94 299.78,170.71" fill="#151515"/>
<line x1="244.60" y1="179.50" x2="259.80" y2="179.50" stroke="#555555" stroke-width="0.9"/>
<polygon points="248.28,174.46 248.82,175.41 249.89,175.64 249.16,176.45 249.27,177.54 248.28,177.10 247.28,177.54 247.39,176.45 246.66,175.64 247.73,175.41" fill="#151515"/>
<polygon points="251.43,174.46 251.97,175.41 253.04,175.64 252.31,176.45 252.42,177.54 251.43,177.10 250.43,177.54 250.54,176.45 249.81,175.64 250.88,175.41" fill="#151515"/>
<polygon points="254.57,174.46 255.12,175.41 256.19,175.64 255.46,176.45 255.57,177.54 254.57,177.10 253.58,177.54 253.69,176.45 252.96,175.64 254.03,175.41" fill="#151515"/>
<polygon points="257.73,174.46 258.27,175.41 259.34,175.64 258.61,176.45 258.72,177.54 257.73,177.10 256.73,177.54 256.84,176.45 256.11,175.64 257.18,175.41" fill="#151515"/>
<line x1="280.40" y1="210.50" x2="316.70" y2="210.50" stroke="#555555" stroke-width="0.9"/>
<polygon points="299.00,205.86 299.55,206.81 300.62,207.04 299.89,207.85 300.00,208.94 299.00,208.50 298.00,208.94 298.11,207.85 297.38,207.04 298.45,206.81" fill="#151515"/>
<line x1="281.70" y1="217.50" x2="295.60" y2="217.50" stroke="#555555" stroke-width="0.9"/>
<polygon points="283.77,212.66 284.32,213.61 285.39,213.84 284.66,214.65 284.77,215.74 283.77,215.30 282.78,215.74 282.89,214.65 282.16,213.84 283.23,213.61" fill="#151515"/>
<polygon points="286.93,212.66 287.47,213.61 288.54,213.84 287.81,214.65 287.92,215.74 286.93,215.30 285.93,215.74 286.04,214.65 285.31,213.84 286.38,213.61" fill="#151515"/>
<polygon points="290.07,212.66 290.62,213.61 291.69,213.84 290.96,214.65 291.07,215.74 290.07,215.30 289.08,215.74 289.19,214.65 288.46,213.84 289.53,213.61" fill="#151515"/>
<polygon points="293.23,212.66 293.77,213.61 294.84,213.84 294.11,214.65 294.22,215.74 293.23,215.30 292.23,215.74 292.34,214.65 291.61,213.84 292.68,213.61" fill="#151515"/>
<text x="258.7" y="166.2" font-size="8.8" text-anchor="start" font-weight="bold" fill="#000" class="h"><tspan textLength="14.5" lengthAdjust="spacingAndGlyphs">IL1</tspan></text><text x="273.8" y="166.2" font-size="10.5" text-anchor="start" font-family="Liberation Serif, serif" fill="#3a3a3a" class="g">β</text>
<text transform="translate(184.66,208.10) rotate(-90)" font-size="8.0" text-anchor="middle" font-weight="bold" fill="#111">RQ</text>
<text x="218.00" y="261.00" font-size="7.7" text-anchor="middle" font-weight="bold" fill="#111">NT</text>
<line x1="251.30" y1="257.00" x2="261.00" y2="257.00" stroke="#333" stroke-width="1.0"/>
<text x="292.30" y="259.60" font-size="7.7" text-anchor="middle" font-weight="bold" fill="#111">NAC</text>
<text x="326.30" y="260.20" font-size="7.7" text-anchor="middle" font-weight="bold" fill="#111">Hx</text>
<line x1="238.70" y1="263.80" x2="345.20" y2="263.80" stroke="#505050" stroke-width="1.4"/>
<text x="296.90" y="274.30" font-size="9.2" text-anchor="middle" font-weight="bold" fill="#111" >+Heme</text>
<line x1="381.50" y1="241.20" x2="381.50" y2="240.60" stroke="#111" stroke-width="1.25"/>
<line x1="378.25" y1="240.50" x2="384.25" y2="240.50" stroke="#111" stroke-width="1.25"/>
<rect x="374.70" y="241.20" width="13.10" height="5.60" fill="#ffffff" stroke="#111" stroke-width="1.2"/>
<line x1="397.50" y1="241.70" x2="397.50" y2="241.10" stroke="#111" stroke-width="1.25"/>
<line x1="394.20" y1="241.50" x2="400.20" y2="241.50" stroke="#111" stroke-width="1.25"/>
<rect x="390.50" y="241.70" width="13.40" height="5.10" fill="#c9c9c9" stroke="#111" stroke-width="1.2"/>
<line x1="417.50" y1="201.50" x2="417.50" y2="195.80" stroke="#111" stroke-width="1.25"/>
<line x1="414.40" y1="195.50" x2="420.40" y2="195.50" stroke="#111" stroke-width="1.25"/>
<rect x="410.70" y="201.50" width="13.40" height="45.30" fill="#ffffff" stroke="#111" stroke-width="1.2"/>
<line x1="433.50" y1="225.40" x2="433.50" y2="220.80" stroke="#111" stroke-width="1.25"/>
<line x1="430.10" y1="220.50" x2="436.10" y2="220.50" stroke="#111" stroke-width="1.25"/>
<rect x="426.50" y="225.40" width="13.20" height="21.40" fill="#c9c9c9" stroke="#111" stroke-width="1.2"/>
<line x1="453.50" y1="235.20" x2="453.50" y2="234.60" stroke="#111" stroke-width="1.25"/>
<line x1="450.55" y1="234.50" x2="456.55" y2="234.50" stroke="#111" stroke-width="1.25"/>
<rect x="446.80" y="235.20" width="13.50" height="11.60" fill="#ffffff" stroke="#111" stroke-width="1.2"/>
<line x1="469.50" y1="239.40" x2="469.50" y2="237.70" stroke="#111" stroke-width="1.25"/>
<line x1="466.30" y1="237.50" x2="472.30" y2="237.50" stroke="#111" stroke-width="1.25"/>
<rect x="462.80" y="239.40" width="13.00" height="7.40" fill="#c9c9c9" stroke="#111" stroke-width="1.2"/>
<line x1="489.50" y1="241.90" x2="489.50" y2="241.50" stroke="#111" stroke-width="1.25"/>
<line x1="486.75" y1="241.50" x2="492.75" y2="241.50" stroke="#111" stroke-width="1.25"/>
<rect x="483.00" y="241.90" width="13.50" height="4.90" fill="#ffffff" stroke="#111" stroke-width="1.2"/>
<line x1="505.50" y1="242.10" x2="505.50" y2="241.70" stroke="#111" stroke-width="1.25"/>
<line x1="502.60" y1="241.50" x2="508.60" y2="241.50" stroke="#111" stroke-width="1.25"/>
<rect x="498.80" y="242.10" width="13.60" height="4.70" fill="#c9c9c9" stroke="#111" stroke-width="1.2"/>
<line x1="371.50" y1="168.75" x2="371.50" y2="247.30" stroke="#111" stroke-width="1.15"/>
<line x1="370.70" y1="246.50" x2="516.20" y2="246.50" stroke="#111" stroke-width="1.15"/>
<line x1="369.20" y1="169.50" x2="371.20" y2="169.50" stroke="#111" stroke-width="1.0"/>
<text x="368.90" y="171.05" font-size="5.0" text-anchor="end" font-weight="bold" fill="#111" >15</text>
<line x1="369.20" y1="195.50" x2="371.20" y2="195.50" stroke="#111" stroke-width="1.0"/>
<text x="368.90" y="196.90" font-size="5.0" text-anchor="end" font-weight="bold" fill="#111" >10</text>
<line x1="369.20" y1="220.50" x2="371.20" y2="220.50" stroke="#111" stroke-width="1.0"/>
<text x="368.90" y="222.75" font-size="5.0" text-anchor="end" font-weight="bold" fill="#111" >5</text>
<line x1="369.20" y1="246.50" x2="371.20" y2="246.50" stroke="#111" stroke-width="1.0"/>
<text x="368.90" y="248.60" font-size="5.0" text-anchor="end" font-weight="bold" fill="#111" >0</text>
<line x1="417.50" y1="177.50" x2="490.80" y2="177.50" stroke="#555555" stroke-width="0.9"/>
<polygon points="449.27,172.66 449.82,173.61 450.89,173.84 450.16,174.65 450.27,175.74 449.27,175.30 448.28,175.74 448.39,174.65 447.66,173.84 448.73,173.61" fill="#151515"/>
<polygon points="452.43,172.66 452.97,173.61 454.04,173.84 453.31,174.65 453.42,175.74 452.43,175.30 451.43,175.74 451.54,174.65 450.81,173.84 451.88,173.61" fill="#151515"/>
<polygon points="455.57,172.66 456.12,173.61 457.19,173.84 456.46,174.65 456.57,175.74 455.57,175.30 454.58,175.74 454.69,174.65 453.96,173.84 455.03,173.61" fill="#151515"/>
<polygon points="458.73,172.66 459.27,173.61 460.34,173.84 459.61,174.65 459.72,175.74 458.73,175.30 457.73,175.74 457.84,174.65 457.11,173.84 458.18,173.61" fill="#151515"/>
<line x1="417.50" y1="184.50" x2="456.00" y2="184.50" stroke="#555555" stroke-width="0.9"/>
<polygon points="432.57,179.46 433.12,180.41 434.19,180.64 433.46,181.45 433.57,182.54 432.57,182.10 431.58,182.54 431.69,181.45 430.96,180.64 432.03,180.41" fill="#151515"/>
<polygon points="435.73,179.46 436.27,180.41 437.34,180.64 436.61,181.45 436.72,182.54 435.73,182.10 434.73,182.54 434.84,181.45 434.11,180.64 435.18,180.41" fill="#151515"/>
<polygon points="438.88,179.46 439.42,180.41 440.49,180.64 439.76,181.45 439.87,182.54 438.88,182.10 437.88,182.54 437.99,181.45 437.26,180.64 438.33,180.41" fill="#151515"/>
<polygon points="442.03,179.46 442.57,180.41 443.64,180.64 442.91,181.45 443.02,182.54 442.03,182.10 441.03,182.54 441.14,181.45 440.41,180.64 441.48,180.41" fill="#151515"/>
<line x1="418.50" y1="191.50" x2="433.20" y2="191.50" stroke="#555555" stroke-width="0.9"/>
<polygon points="420.88,186.96 421.42,187.91 422.49,188.14 421.76,188.95 421.87,190.04 420.88,189.60 419.88,190.04 419.99,188.95 419.26,188.14 420.33,187.91" fill="#151515"/>
<polygon points="424.03,186.96 424.57,187.91 425.64,188.14 424.91,188.95 425.02,190.04 424.03,189.60 423.03,190.04 423.14,188.95 422.41,188.14 423.48,187.91" fill="#151515"/>
<polygon points="427.18,186.96 427.72,187.91 428.79,188.14 428.06,188.95 428.17,190.04 427.18,189.60 426.18,190.04 426.29,188.95 425.56,188.14 426.63,187.91" fill="#151515"/>
<polygon points="430.33,186.96 430.87,187.91 431.94,188.14 431.21,188.95 431.32,190.04 430.33,189.60 429.33,190.04 429.44,188.95 428.71,188.14 429.78,187.91" fill="#151515"/>
<line x1="433.30" y1="209.50" x2="505.60" y2="209.50" stroke="#555555" stroke-width="0.9"/>
<polygon points="467.43,204.56 467.97,205.51 469.04,205.74 468.31,206.55 468.42,207.64 467.43,207.20 466.43,207.64 466.54,206.55 465.81,205.74 466.88,205.51" fill="#151515"/>
<polygon points="470.57,204.56 471.12,205.51 472.19,205.74 471.46,206.55 471.57,207.64 470.57,207.20 469.58,207.64 469.69,206.55 468.96,205.74 470.03,205.51" fill="#151515"/>
<line x1="434.20" y1="217.50" x2="470.40" y2="217.50" stroke="#555555" stroke-width="0.9"/>
<polygon points="450.12,213.46 450.67,214.41 451.74,214.64 451.01,215.45 451.12,216.54 450.12,216.10 449.13,216.54 449.24,215.45 448.51,214.64 449.58,214.41" fill="#151515"/>
<polygon points="453.27,213.46 453.82,214.41 454.89,214.64 454.16,215.45 454.27,216.54 453.27,216.10 452.28,216.54 452.39,215.45 451.66,214.64 452.73,214.41" fill="#151515"/>
<text x="435.0" y="166.2" font-size="8.8" text-anchor="start" font-weight="bold" fill="#000" class="h"><tspan textLength="19.5" lengthAdjust="spacingAndGlyphs">TNF</tspan></text><text x="454.6" y="166.3" font-size="11.5" text-anchor="start" font-family="Liberation Serif, serif" fill="#3a3a3a" class="g">α</text>
<text transform="translate(357.66,207.80) rotate(-90)" font-size="8.0" text-anchor="middle" font-weight="bold" fill="#111">RQ</text>
<text x="392.00" y="261.00" font-size="7.7" text-anchor="middle" font-weight="bold" fill="#111">NT</text>
<line x1="425.20" y1="257.00" x2="434.60" y2="257.00" stroke="#333" stroke-width="1.0"/>
<text x="464.20" y="259.60" font-size="7.7" text-anchor="middle" font-weight="bold" fill="#111">NAC</text>
<text x="498.80" y="260.20" font-size="7.7" text-anchor="middle" font-weight="bold" fill="#111">Hx</text>
<line x1="412.00" y1="263.80" x2="517.50" y2="263.80" stroke="#505050" stroke-width="1.4"/>
<text x="470.60" y="274.30" font-size="9.2" text-anchor="middle" font-weight="bold" fill="#111" >+Heme</text>
<line x1="36.50" y1="356.40" x2="36.50" y2="354.80" stroke="#111" stroke-width="1.25"/>
<line x1="31.35" y1="354.50" x2="40.75" y2="354.50" stroke="#111" stroke-width="1.25"/>
<rect x="25.70" y="356.40" width="20.70" height="57.50" fill="#ffffff" stroke="#111" stroke-width="1.15"/>
<line x1="60.50" y1="351.20" x2="60.50" y2="349.50" stroke="#111" stroke-width="1.25"/>
<line x1="55.75" y1="349.50" x2="65.15" y2="349.50" stroke="#111" stroke-width="1.25"/>
<rect x="50.50" y="351.20" width="19.90" height="62.70" fill="#000000" stroke="#111" stroke-width="1.15"/>
<line x1="84.50" y1="361.50" x2="84.50" y2="356.40" stroke="#111" stroke-width="1.25"/>
<line x1="79.80" y1="356.50" x2="89.20" y2="356.50" stroke="#111" stroke-width="1.25"/>
<rect x="74.50" y="361.50" width="20.00" height="52.40" fill="#5e5e5e" stroke="#111" stroke-width="1.15"/>
<line x1="108.50" y1="357.60" x2="108.50" y2="354.50" stroke="#111" stroke-width="1.25"/>
<line x1="103.70" y1="354.50" x2="113.10" y2="354.50" stroke="#111" stroke-width="1.25"/>
<rect x="98.30" y="357.60" width="20.20" height="56.30" fill="#a3a3a3" stroke="#111" stroke-width="1.15"/>
<line x1="20.50" y1="344.40" x2="20.50" y2="414.40" stroke="#111" stroke-width="1.15"/>
<line x1="20.40" y1="413.50" x2="121.40" y2="413.50" stroke="#111" stroke-width="1.15"/>
<line x1="18.90" y1="344.50" x2="20.90" y2="344.50" stroke="#111" stroke-width="1.0"/>
<text x="18.60" y="346.66" font-size="4.9" text-anchor="end" font-weight="bold" fill="#111" >1.2</text>
<line x1="18.90" y1="356.50" x2="20.90" y2="356.50" stroke="#111" stroke-width="1.0"/>
<text x="18.60" y="358.16" font-size="4.9" text-anchor="end" font-weight="bold" fill="#111" >1.0</text>
<line x1="18.90" y1="367.50" x2="20.90" y2="367.50" stroke="#111" stroke-width="1.0"/>
<text x="18.60" y="369.66" font-size="4.9" text-anchor="end" font-weight="bold" fill="#111" >0.8</text>
<line x1="18.90" y1="379.50" x2="20.90" y2="379.50" stroke="#111" stroke-width="1.0"/>
<text x="18.60" y="381.16" font-size="4.9" text-anchor="end" font-weight="bold" fill="#111" >0.6</text>
<line x1="18.90" y1="390.50" x2="20.90" y2="390.50" stroke="#111" stroke-width="1.0"/>
<text x="18.60" y="392.66" font-size="4.9" text-anchor="end" font-weight="bold" fill="#111" >0.4</text>
<line x1="18.90" y1="402.50" x2="20.90" y2="402.50" stroke="#111" stroke-width="1.0"/>
<text x="18.60" y="404.16" font-size="4.9" text-anchor="end" font-weight="bold" fill="#111" >0.2</text>
<line x1="18.90" y1="413.50" x2="20.90" y2="413.50" stroke="#111" stroke-width="1.0"/>
<text x="18.60" y="415.66" font-size="4.9" text-anchor="end" font-weight="bold" fill="#111" >0.0</text>
<line x1="59.40" y1="337.50" x2="109.20" y2="337.50" stroke="#555555" stroke-width="0.9"/>
<polygon points="82.00,331.44 82.66,333.03 84.38,333.16 83.07,334.29 83.47,335.96 82.00,335.06 80.53,335.96 80.93,334.29 79.62,333.16 81.34,333.03" fill="#151515"/>
<line x1="59.40" y1="345.50" x2="85.70" y2="345.50" stroke="#555555" stroke-width="0.9"/>
<polygon points="72.90,339.94 73.56,341.53 75.28,341.66 73.97,342.79 74.37,344.46 72.90,343.56 71.43,344.46 71.83,342.79 70.52,341.66 72.24,341.53" fill="#151515"/>
<text x="74.75" y="327.30" font-size="9.3" text-anchor="middle" font-weight="bold" fill="#111">MHCII</text>
<text transform="translate(7.16,376.50) rotate(-90)" font-size="8.0" text-anchor="middle" font-weight="bold" fill="#111">RFU</text>
<text x="36.00" y="422.90" font-size="8.2" text-anchor="middle" font-weight="bold" fill="#111">NT</text>
<text x="60.60" y="422.90" font-size="8.2" text-anchor="middle" font-weight="bold" fill="#111">-</text>
<text x="76.40" y="422.90" font-size="8.2" text-anchor="start" font-weight="bold" fill="#111" textLength="50.6" lengthAdjust="spacingAndGlyphs">NAC TAK-242</text>
<line x1="49.30" y1="424.90" x2="119.50" y2="424.90" stroke="#505050" stroke-width="1.4"/>
<text x="83.70" y="433.20" font-size="8.8" text-anchor="middle" font-weight="bold" fill="#111" >+Heme</text>
<line x1="165.50" y1="379.80" x2="165.50" y2="378.30" stroke="#111" stroke-width="1.25"/>
<line x1="160.90" y1="378.50" x2="170.30" y2="378.50" stroke="#111" stroke-width="1.25"/>
<rect x="155.50" y="379.80" width="20.20" height="34.10" fill="#ffffff" stroke="#111" stroke-width="1.15"/>
<line x1="189.50" y1="351.20" x2="189.50" y2="347.50" stroke="#111" stroke-width="1.25"/>
<line x1="184.95" y1="347.50" x2="194.35" y2="347.50" stroke="#111" stroke-width="1.25"/>
<rect x="179.60" y="351.20" width="20.10" height="62.70" fill="#000000" stroke="#111" stroke-width="1.15"/>
<line x1="213.50" y1="357.20" x2="213.50" y2="352.80" stroke="#111" stroke-width="1.25"/>
<line x1="208.40" y1="352.50" x2="217.80" y2="352.50" stroke="#111" stroke-width="1.25"/>
<rect x="203.10" y="357.20" width="20.00" height="56.70" fill="#5e5e5e" stroke="#111" stroke-width="1.15"/>
<line x1="237.50" y1="360.00" x2="237.50" y2="356.40" stroke="#111" stroke-width="1.25"/>
<line x1="232.45" y1="356.50" x2="241.85" y2="356.50" stroke="#111" stroke-width="1.25"/>
<rect x="227.20" y="360.00" width="19.90" height="53.90" fill="#a3a3a3" stroke="#111" stroke-width="1.15"/>
<line x1="150.50" y1="344.60" x2="150.50" y2="414.40" stroke="#111" stroke-width="1.15"/>
<line x1="149.50" y1="413.50" x2="252.20" y2="413.50" stroke="#111" stroke-width="1.15"/>
<line x1="148.00" y1="345.50" x2="150.00" y2="345.50" stroke="#111" stroke-width="1.0"/>
<text x="147.70" y="346.86" font-size="4.9" text-anchor="end" font-weight="bold" fill="#111" >2.0</text>
<line x1="148.00" y1="362.50" x2="150.00" y2="362.50" stroke="#111" stroke-width="1.0"/>
<text x="147.70" y="364.06" font-size="4.9" text-anchor="end" font-weight="bold" fill="#111" >1.5</text>
<line x1="148.00" y1="379.50" x2="150.00" y2="379.50" stroke="#111" stroke-width="1.0"/>
<text x="147.70" y="381.26" font-size="4.9" text-anchor="end" font-weight="bold" fill="#111" >1.0</text>
<line x1="148.00" y1="396.50" x2="150.00" y2="396.50" stroke="#111" stroke-width="1.0"/>
<text x="147.70" y="398.46" font-size="4.9" text-anchor="end" font-weight="bold" fill="#111" >0.5</text>
<line x1="148.00" y1="413.50" x2="150.00" y2="413.50" stroke="#111" stroke-width="1.0"/>
<text x="147.70" y="415.66" font-size="4.9" text-anchor="end" font-weight="bold" fill="#111" >0.0</text>
<line x1="165.20" y1="344.50" x2="189.80" y2="344.50" stroke="#555555" stroke-width="0.9"/>
<polygon points="171.02,337.64 171.69,339.23 173.40,339.36 172.09,340.49 172.49,342.16 171.02,341.26 169.56,342.16 169.96,340.49 168.65,339.36 170.36,339.23" fill="#151515"/>
<polygon points="175.47,337.64 176.14,339.23 177.85,339.36 176.54,340.49 176.94,342.16 175.47,341.26 174.01,342.16 174.41,340.49 173.10,339.36 174.81,339.23" fill="#151515"/>
<polygon points="179.92,337.64 180.59,339.23 182.30,339.36 180.99,340.49 181.39,342.16 179.92,341.26 178.46,342.16 178.86,340.49 177.55,339.36 179.26,339.23" fill="#151515"/>
<polygon points="184.38,337.64 185.04,339.23 186.75,339.36 185.44,340.49 185.84,342.16 184.38,341.26 182.91,342.16 183.31,340.49 182.00,339.36 183.71,339.23" fill="#151515"/>
<line x1="189.90" y1="340.50" x2="237.50" y2="340.50" stroke="#555555" stroke-width="0.9"/>
<polygon points="212.70,333.94 213.36,335.53 215.08,335.66 213.77,336.79 214.17,338.46 212.70,337.56 211.23,338.46 211.63,336.79 210.32,335.66 212.04,335.53" fill="#151515"/>
<text x="202.90" y="327.30" font-size="9.3" text-anchor="middle" font-weight="bold" fill="#111">CD86</text>
<text transform="translate(138.46,380.80) rotate(-90)" font-size="8.0" text-anchor="middle" font-weight="bold" fill="#111">RFU</text>
<text x="167.00" y="422.90" font-size="8.2" text-anchor="middle" font-weight="bold" fill="#111">NT</text>
<text x="191.80" y="422.90" font-size="8.2" text-anchor="middle" font-weight="bold" fill="#111">-</text>
<text x="206.90" y="422.90" font-size="8.2" text-anchor="start" font-weight="bold" fill="#111" textLength="51.6" lengthAdjust="spacingAndGlyphs">NAC TAK-242</text>
<line x1="179.80" y1="424.90" x2="249.50" y2="424.90" stroke="#505050" stroke-width="1.4"/>
<text x="214.40" y="433.20" font-size="8.8" text-anchor="middle" font-weight="bold" fill="#111" >+Heme</text>
<line x1="36.50" y1="478.30" x2="36.50" y2="476.60" stroke="#111" stroke-width="1.25"/>
<line x1="31.60" y1="476.50" x2="41.00" y2="476.50" stroke="#111" stroke-width="1.25"/>
<rect x="25.70" y="478.30" width="21.20" height="54.70" fill="#ffffff" stroke="#111" stroke-width="1.15"/>
<line x1="61.50" y1="471.80" x2="61.50" y2="467.50" stroke="#111" stroke-width="1.25"/>
<line x1="56.35" y1="467.50" x2="65.75" y2="467.50" stroke="#111" stroke-width="1.25"/>
<rect x="51.00" y="471.80" width="20.10" height="61.20" fill="#000000" stroke="#111" stroke-width="1.15"/>
<line x1="85.50" y1="475.40" x2="85.50" y2="472.70" stroke="#111" stroke-width="1.25"/>
<line x1="80.40" y1="472.50" x2="89.80" y2="472.50" stroke="#111" stroke-width="1.25"/>
<rect x="75.00" y="475.40" width="20.20" height="57.60" fill="#5e5e5e" stroke="#111" stroke-width="1.15"/>
<line x1="109.50" y1="479.50" x2="109.50" y2="477.00" stroke="#111" stroke-width="1.25"/>
<line x1="104.45" y1="477.50" x2="113.85" y2="477.50" stroke="#111" stroke-width="1.25"/>
<rect x="99.10" y="479.50" width="20.10" height="53.50" fill="#a3a3a3" stroke="#111" stroke-width="1.15"/>
<line x1="20.50" y1="462.75" x2="20.50" y2="533.50" stroke="#111" stroke-width="1.15"/>
<line x1="20.40" y1="533.50" x2="121.40" y2="533.50" stroke="#111" stroke-width="1.15"/>
<line x1="18.90" y1="463.50" x2="20.90" y2="463.50" stroke="#111" stroke-width="1.0"/>
<text x="18.60" y="465.01" font-size="4.9" text-anchor="end" font-weight="bold" fill="#111" >1.25</text>
<line x1="18.90" y1="477.50" x2="20.90" y2="477.50" stroke="#111" stroke-width="1.0"/>
<text x="18.60" y="478.96" font-size="4.9" text-anchor="end" font-weight="bold" fill="#111" >1.00</text>
<line x1="18.90" y1="491.50" x2="20.90" y2="491.50" stroke="#111" stroke-width="1.0"/>
<text x="18.60" y="492.91" font-size="4.9" text-anchor="end" font-weight="bold" fill="#111" >0.75</text>
<line x1="18.90" y1="505.50" x2="20.90" y2="505.50" stroke="#111" stroke-width="1.0"/>
<text x="18.60" y="506.86" font-size="4.9" text-anchor="end" font-weight="bold" fill="#111" >0.50</text>
<line x1="18.90" y1="519.50" x2="20.90" y2="519.50" stroke="#111" stroke-width="1.0"/>
<text x="18.60" y="520.81" font-size="4.9" text-anchor="end" font-weight="bold" fill="#111" >0.25</text>
<line x1="18.90" y1="533.50" x2="20.90" y2="533.50" stroke="#111" stroke-width="1.0"/>
<text x="18.60" y="534.76" font-size="4.9" text-anchor="end" font-weight="bold" fill="#111" >0.00</text>
<text x="73.90" y="450.20" font-size="9.3" text-anchor="middle" font-weight="bold" fill="#111">iNOS</text>
<text transform="translate(7.61,499.10) rotate(-90)" font-size="8.0" text-anchor="middle" font-weight="bold" fill="#111">RFU</text>
<text x="37.30" y="541.60" font-size="8.2" text-anchor="middle" font-weight="bold" fill="#111">NT</text>
<text x="62.00" y="541.60" font-size="8.2" text-anchor="middle" font-weight="bold" fill="#111">-</text>
<text x="77.50" y="541.60" font-size="8.2" text-anchor="start" font-weight="bold" fill="#111" textLength="50.0" lengthAdjust="spacingAndGlyphs">NAC TAK-242</text>
<line x1="50.50" y1="543.90" x2="120.20" y2="543.90" stroke="#505050" stroke-width="1.4"/>
<text x="85.30" y="552.00" font-size="8.8" text-anchor="middle" font-weight="bold" fill="#111" >+Heme</text>
<line x1="165.50" y1="482.40" x2="165.50" y2="481.20" stroke="#111" stroke-width="1.25"/>
<line x1="160.95" y1="481.50" x2="170.35" y2="481.50" stroke="#111" stroke-width="1.25"/>
<rect x="155.10" y="482.40" width="21.10" height="49.90" fill="#ffffff" stroke="#111" stroke-width="1.15"/>
<line x1="190.50" y1="471.80" x2="190.50" y2="468.20" stroke="#111" stroke-width="1.25"/>
<line x1="185.55" y1="468.50" x2="194.95" y2="468.50" stroke="#111" stroke-width="1.25"/>
<rect x="180.30" y="471.80" width="19.90" height="60.50" fill="#000000" stroke="#111" stroke-width="1.15"/>
<line x1="214.50" y1="473.90" x2="214.50" y2="470.30" stroke="#111" stroke-width="1.25"/>
<line x1="209.50" y1="470.50" x2="218.90" y2="470.50" stroke="#111" stroke-width="1.25"/>
<rect x="204.10" y="473.90" width="20.20" height="58.40" fill="#5e5e5e" stroke="#111" stroke-width="1.15"/>
<line x1="238.50" y1="481.90" x2="238.50" y2="480.20" stroke="#111" stroke-width="1.25"/>
<line x1="233.50" y1="480.50" x2="242.90" y2="480.50" stroke="#111" stroke-width="1.25"/>
<rect x="228.10" y="481.90" width="20.20" height="50.40" fill="#a3a3a3" stroke="#111" stroke-width="1.15"/>
<line x1="150.50" y1="460.82" x2="150.50" y2="532.80" stroke="#111" stroke-width="1.15"/>
<line x1="149.50" y1="532.50" x2="252.20" y2="532.50" stroke="#111" stroke-width="1.15"/>
<line x1="148.00" y1="461.50" x2="150.00" y2="461.50" stroke="#111" stroke-width="1.0"/>
<text x="147.70" y="463.08" font-size="4.9" text-anchor="end" font-weight="bold" fill="#111" >1.4</text>
<line x1="148.00" y1="471.50" x2="150.00" y2="471.50" stroke="#111" stroke-width="1.0"/>
<text x="147.70" y="473.22" font-size="4.9" text-anchor="end" font-weight="bold" fill="#111" >1.2</text>
<line x1="148.00" y1="481.50" x2="150.00" y2="481.50" stroke="#111" stroke-width="1.0"/>
<text x="147.70" y="483.36" font-size="4.9" text-anchor="end" font-weight="bold" fill="#111" >1.0</text>
<line x1="148.00" y1="491.50" x2="150.00" y2="491.50" stroke="#111" stroke-width="1.0"/>
<text x="147.70" y="493.50" font-size="4.9" text-anchor="end" font-weight="bold" fill="#111" >0.8</text>
<line x1="148.00" y1="501.50" x2="150.00" y2="501.50" stroke="#111" stroke-width="1.0"/>
<text x="147.70" y="503.64" font-size="4.9" text-anchor="end" font-weight="bold" fill="#111" >0.6</text>
<line x1="148.00" y1="512.50" x2="150.00" y2="512.50" stroke="#111" stroke-width="1.0"/>
<text x="147.70" y="513.78" font-size="4.9" text-anchor="end" font-weight="bold" fill="#111" >0.4</text>
<line x1="148.00" y1="522.50" x2="150.00" y2="522.50" stroke="#111" stroke-width="1.0"/>
<text x="147.70" y="523.92" font-size="4.9" text-anchor="end" font-weight="bold" fill="#111" >0.2</text>
<line x1="148.00" y1="532.50" x2="150.00" y2="532.50" stroke="#111" stroke-width="1.0"/>
<text x="147.70" y="534.06" font-size="4.9" text-anchor="end" font-weight="bold" fill="#111" >0.0</text>
<line x1="165.40" y1="465.50" x2="190.80" y2="465.50" stroke="#555555" stroke-width="0.9"/>
<polygon points="176.08,459.64 176.74,461.23 178.45,461.36 177.14,462.49 177.54,464.16 176.08,463.26 174.61,464.16 175.01,462.49 173.70,461.36 175.41,461.23" fill="#151515"/>
<polygon points="180.53,459.64 181.19,461.23 182.90,461.36 181.59,462.49 181.99,464.16 180.53,463.26 179.06,464.16 179.46,462.49 178.15,461.36 179.86,461.23" fill="#151515"/>
<line x1="190.80" y1="460.50" x2="239.60" y2="460.50" stroke="#555555" stroke-width="0.9"/>
<polygon points="213.18,455.04 213.84,456.63 215.55,456.76 214.24,457.89 214.64,459.56 213.18,458.66 211.71,459.56 212.11,457.89 210.80,456.76 212.51,456.63" fill="#151515"/>
<polygon points="217.62,455.04 218.29,456.63 220.00,456.76 218.69,457.89 219.09,459.56 217.62,458.66 216.16,459.56 216.56,457.89 215.25,456.76 216.96,456.63" fill="#151515"/>
<text x="204.30" y="450.10" font-size="9.3" text-anchor="middle" font-weight="bold" fill="#111">IL-6</text>
<text transform="translate(138.16,502.10) rotate(-90)" font-size="8.0" text-anchor="middle" font-weight="bold" fill="#111">RFU</text>
<text x="167.00" y="541.60" font-size="8.2" text-anchor="middle" font-weight="bold" fill="#111">NT</text>
<text x="191.80" y="541.60" font-size="8.2" text-anchor="middle" font-weight="bold" fill="#111">-</text>
<text x="206.90" y="541.60" font-size="8.2" text-anchor="start" font-weight="bold" fill="#111" textLength="51.6" lengthAdjust="spacingAndGlyphs">NAC TAK-242</text>
<line x1="180.30" y1="543.90" x2="249.80" y2="543.90" stroke="#505050" stroke-width="1.4"/>
<text x="215.00" y="552.00" font-size="8.8" text-anchor="middle" font-weight="bold" fill="#111" >+Heme</text>
<line x1="36.50" y1="608.60" x2="36.50" y2="605.70" stroke="#111" stroke-width="1.25"/>
<line x1="31.35" y1="605.50" x2="40.75" y2="605.50" stroke="#111" stroke-width="1.25"/>
<rect x="25.70" y="608.60" width="20.70" height="43.20" fill="#ffffff" stroke="#111" stroke-width="1.15"/>
<line x1="60.50" y1="592.20" x2="60.50" y2="585.30" stroke="#111" stroke-width="1.25"/>
<line x1="55.90" y1="585.50" x2="65.30" y2="585.50" stroke="#111" stroke-width="1.25"/>
<rect x="50.30" y="592.20" width="20.60" height="59.60" fill="#000000" stroke="#111" stroke-width="1.15"/>
<line x1="84.50" y1="595.40" x2="84.50" y2="588.40" stroke="#111" stroke-width="1.25"/>
<line x1="80.00" y1="588.50" x2="89.40" y2="588.50" stroke="#111" stroke-width="1.25"/>
<rect x="74.50" y="595.40" width="20.40" height="56.40" fill="#5e5e5e" stroke="#111" stroke-width="1.15"/>
<line x1="108.50" y1="612.20" x2="108.50" y2="609.30" stroke="#111" stroke-width="1.25"/>
<line x1="104.10" y1="609.50" x2="113.50" y2="609.50" stroke="#111" stroke-width="1.25"/>
<rect x="98.60" y="612.20" width="20.40" height="39.60" fill="#a3a3a3" stroke="#111" stroke-width="1.15"/>
<line x1="20.50" y1="582.30" x2="20.50" y2="652.30" stroke="#111" stroke-width="1.15"/>
<line x1="20.40" y1="651.50" x2="121.40" y2="651.50" stroke="#111" stroke-width="1.15"/>
<line x1="18.90" y1="582.50" x2="20.90" y2="582.50" stroke="#111" stroke-width="1.0"/>
<text x="18.60" y="584.56" font-size="4.9" text-anchor="end" font-weight="bold" fill="#111" >1.6</text>
<line x1="18.90" y1="600.50" x2="20.90" y2="600.50" stroke="#111" stroke-width="1.0"/>
<text x="18.60" y="601.81" font-size="4.9" text-anchor="end" font-weight="bold" fill="#111" >1.2</text>
<line x1="18.90" y1="617.50" x2="20.90" y2="617.50" stroke="#111" stroke-width="1.0"/>
<text x="18.60" y="619.06" font-size="4.9" text-anchor="end" font-weight="bold" fill="#111" >0.8</text>
<line x1="18.90" y1="634.50" x2="20.90" y2="634.50" stroke="#111" stroke-width="1.0"/>
<text x="18.60" y="636.31" font-size="4.9" text-anchor="end" font-weight="bold" fill="#111" >0.4</text>
<line x1="18.90" y1="651.50" x2="20.90" y2="651.50" stroke="#111" stroke-width="1.0"/>
<text x="18.60" y="653.56" font-size="4.9" text-anchor="end" font-weight="bold" fill="#111" >0.0</text>
<line x1="35.20" y1="582.50" x2="60.20" y2="582.50" stroke="#555555" stroke-width="0.9"/>
<polygon points="48.30,577.04 48.96,578.63 50.68,578.76 49.37,579.89 49.77,581.56 48.30,580.66 46.83,581.56 47.23,579.89 45.92,578.76 47.64,578.63" fill="#151515"/>
<line x1="60.20" y1="578.50" x2="109.00" y2="578.50" stroke="#555555" stroke-width="0.9"/>
<polygon points="84.20,572.44 84.86,574.03 86.58,574.16 85.27,575.29 85.67,576.96 84.20,576.06 82.73,576.96 83.13,575.29 81.82,574.16 83.54,574.03" fill="#151515"/>
<text x="63.3" y="570.6" font-size="9.0" text-anchor="start" font-weight="bold" fill="#111">TNF</text><text x="80.9" y="570.6" font-size="11" text-anchor="start" font-family="Liberation Serif, serif" fill="#333" class="g">α</text>
<text transform="translate(8.26,618.80) rotate(-90)" font-size="8.0" text-anchor="middle" font-weight="bold" fill="#111">RFU</text>
<text x="36.00" y="660.80" font-size="8.2" text-anchor="middle" font-weight="bold" fill="#111">NT</text>
<text x="60.60" y="660.80" font-size="8.2" text-anchor="middle" font-weight="bold" fill="#111">-</text>
<text x="76.30" y="660.80" font-size="8.2" text-anchor="start" font-weight="bold" fill="#111" textLength="51.0" lengthAdjust="spacingAndGlyphs">NAC TAK-242</text>
<line x1="49.80" y1="663.60" x2="119.50" y2="663.60" stroke="#505050" stroke-width="1.4"/>
<text x="84.60" y="671.20" font-size="8.8" text-anchor="middle" font-weight="bold" fill="#111" >+Heme</text>
<line x1="165.50" y1="593.00" x2="165.50" y2="588.10" stroke="#111" stroke-width="1.25"/>
<line x1="160.95" y1="588.50" x2="170.35" y2="588.50" stroke="#111" stroke-width="1.25"/>
<rect x="155.10" y="593.00" width="21.10" height="59.10" fill="#ffffff" stroke="#111" stroke-width="1.15"/>
<line x1="190.50" y1="607.40" x2="190.50" y2="603.30" stroke="#111" stroke-width="1.25"/>
<line x1="185.45" y1="603.50" x2="194.85" y2="603.50" stroke="#111" stroke-width="1.25"/>
<rect x="180.10" y="607.40" width="20.10" height="44.70" fill="#000000" stroke="#111" stroke-width="1.15"/>
<line x1="214.50" y1="593.00" x2="214.50" y2="586.90" stroke="#111" stroke-width="1.25"/>
<line x1="209.50" y1="586.50" x2="218.90" y2="586.50" stroke="#111" stroke-width="1.25"/>
<rect x="204.10" y="593.00" width="20.20" height="59.10" fill="#5e5e5e" stroke="#111" stroke-width="1.15"/>
<line x1="238.50" y1="603.80" x2="238.50" y2="599.70" stroke="#111" stroke-width="1.25"/>
<line x1="233.50" y1="599.50" x2="242.90" y2="599.50" stroke="#111" stroke-width="1.25"/>
<rect x="228.10" y="603.80" width="20.20" height="48.30" fill="#a3a3a3" stroke="#111" stroke-width="1.15"/>
<line x1="150.50" y1="580.68" x2="150.50" y2="652.60" stroke="#111" stroke-width="1.15"/>
<line x1="149.50" y1="652.50" x2="252.20" y2="652.50" stroke="#111" stroke-width="1.15"/>
<line x1="148.00" y1="581.50" x2="150.00" y2="581.50" stroke="#111" stroke-width="1.0"/>
<text x="147.70" y="582.94" font-size="4.9" text-anchor="end" font-weight="bold" fill="#111" >1.2</text>
<line x1="148.00" y1="593.50" x2="150.00" y2="593.50" stroke="#111" stroke-width="1.0"/>
<text x="147.70" y="594.76" font-size="4.9" text-anchor="end" font-weight="bold" fill="#111" >1.0</text>
<line x1="148.00" y1="604.50" x2="150.00" y2="604.50" stroke="#111" stroke-width="1.0"/>
<text x="147.70" y="606.58" font-size="4.9" text-anchor="end" font-weight="bold" fill="#111" >0.8</text>
<line x1="148.00" y1="616.50" x2="150.00" y2="616.50" stroke="#111" stroke-width="1.0"/>
<text x="147.70" y="618.40" font-size="4.9" text-anchor="end" font-weight="bold" fill="#111" >0.6</text>
<line x1="148.00" y1="628.50" x2="150.00" y2="628.50" stroke="#111" stroke-width="1.0"/>
<text x="147.70" y="630.22" font-size="4.9" text-anchor="end" font-weight="bold" fill="#111" >0.4</text>
<line x1="148.00" y1="640.50" x2="150.00" y2="640.50" stroke="#111" stroke-width="1.0"/>
<text x="147.70" y="642.04" font-size="4.9" text-anchor="end" font-weight="bold" fill="#111" >0.2</text>
<line x1="148.00" y1="652.50" x2="150.00" y2="652.50" stroke="#111" stroke-width="1.0"/>
<text x="147.70" y="653.86" font-size="4.9" text-anchor="end" font-weight="bold" fill="#111" >0.0</text>
<line x1="166.50" y1="584.50" x2="191.80" y2="584.50" stroke="#555555" stroke-width="0.9"/>
<polygon points="179.60,578.74 180.26,580.33 181.98,580.46 180.67,581.59 181.07,583.26 179.60,582.36 178.13,583.26 178.53,581.59 177.22,580.46 178.94,580.33" fill="#151515"/>
<text x="204.90" y="570.40" font-size="9.3" text-anchor="middle" font-weight="bold" fill="#111">CD206</text>
<text transform="translate(136.26,615.10) rotate(-90)" font-size="8.0" text-anchor="middle" font-weight="bold" fill="#111">RFU</text>
<text x="166.30" y="660.80" font-size="8.2" text-anchor="middle" font-weight="bold" fill="#111">NT</text>
<text x="191.30" y="660.80" font-size="8.2" text-anchor="middle" font-weight="bold" fill="#111">-</text>
<text x="206.50" y="660.80" font-size="8.2" text-anchor="start" font-weight="bold" fill="#111" textLength="51.8" lengthAdjust="spacingAndGlyphs">NAC TAK-242</text>
<line x1="178.40" y1="663.60" x2="249.80" y2="663.60" stroke="#505050" stroke-width="1.4"/>
<text x="214.40" y="671.20" font-size="8.8" text-anchor="middle" font-weight="bold" fill="#111" >+Heme</text>
<line x1="299.50" y1="379.80" x2="299.50" y2="376.70" stroke="#111" stroke-width="1.25"/>
<line x1="295.05" y1="376.50" x2="304.45" y2="376.50" stroke="#111" stroke-width="1.25"/>
<rect x="289.20" y="379.80" width="21.10" height="34.10" fill="#ffffff" stroke="#111" stroke-width="1.15"/>
<line x1="324.50" y1="354.70" x2="324.50" y2="346.90" stroke="#111" stroke-width="1.25"/>
<line x1="319.75" y1="346.50" x2="329.15" y2="346.50" stroke="#111" stroke-width="1.25"/>
<rect x="314.70" y="354.70" width="19.50" height="59.20" fill="#000000" stroke="#111" stroke-width="1.15"/>
<line x1="348.50" y1="384.00" x2="348.50" y2="381.40" stroke="#111" stroke-width="1.25"/>
<line x1="343.50" y1="381.50" x2="352.90" y2="381.50" stroke="#111" stroke-width="1.25"/>
<rect x="338.10" y="384.00" width="20.20" height="29.90" fill="#5e5e5e" stroke="#111" stroke-width="1.15"/>
<line x1="372.50" y1="368.40" x2="372.50" y2="363.20" stroke="#111" stroke-width="1.25"/>
<line x1="367.50" y1="363.50" x2="376.90" y2="363.50" stroke="#111" stroke-width="1.25"/>
<rect x="361.90" y="368.40" width="20.60" height="45.50" fill="#a3a3a3" stroke="#111" stroke-width="1.15"/>
<line x1="284.50" y1="344.80" x2="284.50" y2="414.40" stroke="#111" stroke-width="1.15"/>
<line x1="283.80" y1="413.50" x2="385.50" y2="413.50" stroke="#111" stroke-width="1.15"/>
<line x1="282.30" y1="345.50" x2="284.30" y2="345.50" stroke="#111" stroke-width="1.0"/>
<text x="282.00" y="347.06" font-size="4.9" text-anchor="end" font-weight="bold" fill="#111" >2.0</text>
<line x1="282.30" y1="362.50" x2="284.30" y2="362.50" stroke="#111" stroke-width="1.0"/>
<text x="282.00" y="364.21" font-size="4.9" text-anchor="end" font-weight="bold" fill="#111" >1.5</text>
<line x1="282.30" y1="379.50" x2="284.30" y2="379.50" stroke="#111" stroke-width="1.0"/>
<text x="282.00" y="381.36" font-size="4.9" text-anchor="end" font-weight="bold" fill="#111" >1.0</text>
<line x1="282.30" y1="396.50" x2="284.30" y2="396.50" stroke="#111" stroke-width="1.0"/>
<text x="282.00" y="398.51" font-size="4.9" text-anchor="end" font-weight="bold" fill="#111" >0.5</text>
<line x1="282.30" y1="413.50" x2="284.30" y2="413.50" stroke="#111" stroke-width="1.0"/>
<text x="282.00" y="415.66" font-size="4.9" text-anchor="end" font-weight="bold" fill="#111" >0.0</text>
<line x1="299.50" y1="343.50" x2="324.40" y2="343.50" stroke="#555555" stroke-width="0.9"/>
<polygon points="311.70,337.24 312.36,338.83 314.08,338.96 312.77,340.09 313.17,341.76 311.70,340.86 310.23,341.76 310.63,340.09 309.32,338.96 311.04,338.83" fill="#151515"/>
<line x1="324.80" y1="339.50" x2="349.80" y2="339.50" stroke="#555555" stroke-width="0.9"/>
<polygon points="337.10,333.44 337.76,335.03 339.48,335.16 338.17,336.29 338.57,337.96 337.10,337.06 335.63,337.96 336.03,336.29 334.72,335.16 336.44,335.03" fill="#151515"/>
<text x="337.50" y="327.30" font-size="9.3" text-anchor="middle" font-weight="bold" fill="#111">MHCII</text>
<text transform="translate(270.16,380.70) rotate(-90)" font-size="8.0" text-anchor="middle" font-weight="bold" fill="#111">RFU</text>
<text x="300.40" y="422.90" font-size="8.2" text-anchor="middle" font-weight="bold" fill="#111">NT</text>
<text x="325.10" y="422.90" font-size="8.2" text-anchor="middle" font-weight="bold" fill="#111">-</text>
<text x="340.70" y="422.90" font-size="8.2" text-anchor="start" font-weight="bold" fill="#111" textLength="49.3" lengthAdjust="spacingAndGlyphs">NAC TAK-242</text>
<line x1="313.40" y1="425.20" x2="383.50" y2="425.20" stroke="#505050" stroke-width="1.4"/>
<text x="347.20" y="433.20" font-size="8.8" text-anchor="middle" font-weight="bold" fill="#111" >+Heme</text>
<line x1="429.50" y1="374.90" x2="429.50" y2="374.10" stroke="#111" stroke-width="1.25"/>
<line x1="424.55" y1="374.50" x2="433.95" y2="374.50" stroke="#111" stroke-width="1.25"/>
<rect x="419.00" y="374.90" width="20.50" height="39.20" fill="#ffffff" stroke="#111" stroke-width="1.15"/>
<line x1="453.50" y1="354.70" x2="453.50" y2="351.70" stroke="#111" stroke-width="1.25"/>
<line x1="448.85" y1="351.50" x2="458.25" y2="351.50" stroke="#111" stroke-width="1.25"/>
<rect x="443.90" y="354.70" width="19.30" height="59.40" fill="#000000" stroke="#111" stroke-width="1.15"/>
<line x1="477.50" y1="360.00" x2="477.50" y2="358.10" stroke="#111" stroke-width="1.25"/>
<line x1="472.45" y1="358.50" x2="481.85" y2="358.50" stroke="#111" stroke-width="1.25"/>
<rect x="467.30" y="360.00" width="19.70" height="54.10" fill="#5e5e5e" stroke="#111" stroke-width="1.15"/>
<line x1="501.50" y1="361.00" x2="501.50" y2="358.00" stroke="#111" stroke-width="1.25"/>
<line x1="496.35" y1="358.50" x2="505.75" y2="358.50" stroke="#111" stroke-width="1.25"/>
<rect x="491.20" y="361.00" width="19.70" height="53.10" fill="#a3a3a3" stroke="#111" stroke-width="1.15"/>
<line x1="414.50" y1="344.79" x2="414.50" y2="414.60" stroke="#111" stroke-width="1.15"/>
<line x1="413.50" y1="414.50" x2="514.00" y2="414.50" stroke="#111" stroke-width="1.15"/>
<line x1="412.00" y1="345.50" x2="414.00" y2="345.50" stroke="#111" stroke-width="1.0"/>
<text x="411.70" y="346.84" font-size="4.3" text-anchor="end" font-weight="bold" fill="#111" >1.75</text>
<line x1="412.00" y1="355.50" x2="414.00" y2="355.50" stroke="#111" stroke-width="1.0"/>
<text x="411.70" y="356.67" font-size="4.3" text-anchor="end" font-weight="bold" fill="#111" >1.50</text>
<line x1="412.00" y1="364.50" x2="414.00" y2="364.50" stroke="#111" stroke-width="1.0"/>
<text x="411.70" y="366.50" font-size="4.3" text-anchor="end" font-weight="bold" fill="#111" >1.25</text>
<line x1="412.00" y1="374.50" x2="414.00" y2="374.50" stroke="#111" stroke-width="1.0"/>
<text x="411.70" y="376.33" font-size="4.3" text-anchor="end" font-weight="bold" fill="#111" >1.00</text>
<line x1="412.00" y1="384.50" x2="414.00" y2="384.50" stroke="#111" stroke-width="1.0"/>
<text x="411.70" y="386.16" font-size="4.3" text-anchor="end" font-weight="bold" fill="#111" >0.75</text>
<line x1="412.00" y1="394.50" x2="414.00" y2="394.50" stroke="#111" stroke-width="1.0"/>
<text x="411.70" y="395.99" font-size="4.3" text-anchor="end" font-weight="bold" fill="#111" >0.50</text>
<line x1="412.00" y1="404.50" x2="414.00" y2="404.50" stroke="#111" stroke-width="1.0"/>
<text x="411.70" y="405.82" font-size="4.3" text-anchor="end" font-weight="bold" fill="#111" >0.25</text>
<line x1="412.00" y1="414.50" x2="414.00" y2="414.50" stroke="#111" stroke-width="1.0"/>
<text x="411.70" y="415.65" font-size="4.3" text-anchor="end" font-weight="bold" fill="#111" >0.00</text>
<line x1="429.00" y1="347.50" x2="454.40" y2="347.50" stroke="#555555" stroke-width="0.9"/>
<polygon points="434.62,341.64 435.29,343.23 437.00,343.36 435.69,344.49 436.09,346.16 434.62,345.26 433.16,346.16 433.56,344.49 432.25,343.36 433.96,343.23" fill="#151515"/>
<polygon points="439.07,341.64 439.74,343.23 441.45,343.36 440.14,344.49 440.54,346.16 439.07,345.26 437.61,346.16 438.01,344.49 436.70,343.36 438.41,343.23" fill="#151515"/>
<polygon points="443.53,341.64 444.19,343.23 445.90,343.36 444.59,344.49 444.99,346.16 443.53,345.26 442.06,346.16 442.46,344.49 441.15,343.36 442.86,343.23" fill="#151515"/>
<polygon points="447.98,341.64 448.64,343.23 450.35,343.36 449.04,344.49 449.44,346.16 447.98,345.26 446.51,346.16 446.91,344.49 445.60,343.36 447.31,343.23" fill="#151515"/>
<line x1="455.50" y1="344.50" x2="480.20" y2="344.50" stroke="#555555" stroke-width="0.9"/>
<polygon points="467.10,338.34 467.76,339.93 469.48,340.06 468.17,341.19 468.57,342.86 467.10,341.96 465.63,342.86 466.03,341.19 464.72,340.06 466.44,339.93" fill="#151515"/>
<line x1="455.90" y1="337.50" x2="503.10" y2="337.50" stroke="#555555" stroke-width="0.9"/>
<polygon points="478.80,331.54 479.46,333.13 481.18,333.26 479.87,334.39 480.27,336.06 478.80,335.16 477.33,336.06 477.73,334.39 476.42,333.26 478.14,333.13" fill="#151515"/>
<text x="465.90" y="327.30" font-size="9.3" text-anchor="middle" font-weight="bold" fill="#111">CD86</text>
<text transform="translate(400.86,378.10) rotate(-90)" font-size="8.0" text-anchor="middle" font-weight="bold" fill="#111">RFU</text>
<text x="426.00" y="422.90" font-size="8.2" text-anchor="middle" font-weight="bold" fill="#111">NT</text>
<text x="453.30" y="422.90" font-size="8.2" text-anchor="middle" font-weight="bold" fill="#111">-</text>
<text x="467.60" y="422.90" font-size="8.2" text-anchor="start" font-weight="bold" fill="#111" textLength="49.8" lengthAdjust="spacingAndGlyphs">NAC TAK-242</text>
<line x1="442.60" y1="425.20" x2="514.00" y2="425.20" stroke="#505050" stroke-width="1.4"/>
<text x="475.90" y="433.20" font-size="8.8" text-anchor="middle" font-weight="bold" fill="#111" >+Heme</text>
<line x1="295.50" y1="477.10" x2="295.50" y2="476.50" stroke="#111" stroke-width="1.25"/>
<line x1="291.20" y1="476.50" x2="300.60" y2="476.50" stroke="#111" stroke-width="1.25"/>
<rect x="285.40" y="477.10" width="21.00" height="55.70" fill="#ffffff" stroke="#111" stroke-width="1.15"/>
<line x1="320.50" y1="472.60" x2="320.50" y2="469.50" stroke="#111" stroke-width="1.25"/>
<line x1="316.00" y1="469.50" x2="325.40" y2="469.50" stroke="#111" stroke-width="1.25"/>
<rect x="310.80" y="472.60" width="19.80" height="60.20" fill="#000000" stroke="#111" stroke-width="1.15"/>
<line x1="344.50" y1="481.00" x2="344.50" y2="478.10" stroke="#111" stroke-width="1.25"/>
<line x1="339.65" y1="478.50" x2="349.05" y2="478.50" stroke="#111" stroke-width="1.25"/>
<rect x="334.20" y="481.00" width="20.30" height="51.80" fill="#5e5e5e" stroke="#111" stroke-width="1.15"/>
<line x1="368.50" y1="472.10" x2="368.50" y2="469.00" stroke="#111" stroke-width="1.25"/>
<line x1="364.15" y1="469.50" x2="373.55" y2="469.50" stroke="#111" stroke-width="1.25"/>
<rect x="358.60" y="472.10" width="20.50" height="60.70" fill="#a3a3a3" stroke="#111" stroke-width="1.15"/>
<line x1="280.50" y1="462.55" x2="280.50" y2="533.30" stroke="#111" stroke-width="1.15"/>
<line x1="279.70" y1="532.50" x2="382.00" y2="532.50" stroke="#111" stroke-width="1.15"/>
<line x1="278.20" y1="463.50" x2="280.20" y2="463.50" stroke="#111" stroke-width="1.0"/>
<text x="277.90" y="464.60" font-size="4.3" text-anchor="end" font-weight="bold" fill="#111" >1.25</text>
<line x1="278.20" y1="477.50" x2="280.20" y2="477.50" stroke="#111" stroke-width="1.0"/>
<text x="277.90" y="478.55" font-size="4.3" text-anchor="end" font-weight="bold" fill="#111" >1.00</text>
<line x1="278.20" y1="490.50" x2="280.20" y2="490.50" stroke="#111" stroke-width="1.0"/>
<text x="277.90" y="492.50" font-size="4.3" text-anchor="end" font-weight="bold" fill="#111" >0.75</text>
<line x1="278.20" y1="504.50" x2="280.20" y2="504.50" stroke="#111" stroke-width="1.0"/>
<text x="277.90" y="506.45" font-size="4.3" text-anchor="end" font-weight="bold" fill="#111" >0.50</text>
<line x1="278.20" y1="518.50" x2="280.20" y2="518.50" stroke="#111" stroke-width="1.0"/>
<text x="277.90" y="520.40" font-size="4.3" text-anchor="end" font-weight="bold" fill="#111" >0.25</text>
<line x1="278.20" y1="532.50" x2="280.20" y2="532.50" stroke="#111" stroke-width="1.0"/>
<text x="277.90" y="534.35" font-size="4.3" text-anchor="end" font-weight="bold" fill="#111" >0.00</text>
<line x1="319.90" y1="466.50" x2="346.40" y2="466.50" stroke="#555555" stroke-width="0.9"/>
<polygon points="332.40,459.64 333.06,461.23 334.78,461.36 333.47,462.49 333.87,464.16 332.40,463.26 330.93,464.16 331.33,462.49 330.02,461.36 331.74,461.23" fill="#151515"/>
<text x="332.70" y="450.20" font-size="9.3" text-anchor="middle" font-weight="bold" fill="#111">iNOS</text>
<text transform="translate(265.76,502.80) rotate(-90)" font-size="8.0" text-anchor="middle" font-weight="bold" fill="#111">RFU</text>
<text x="296.00" y="541.70" font-size="8.2" text-anchor="middle" font-weight="bold" fill="#111">NT</text>
<text x="320.70" y="541.70" font-size="8.2" text-anchor="middle" font-weight="bold" fill="#111">-</text>
<text x="334.20" y="541.70" font-size="8.2" text-anchor="start" font-weight="bold" fill="#111" textLength="53.2" lengthAdjust="spacingAndGlyphs">NAC TAK-242</text>
<line x1="309.00" y1="544.00" x2="379.60" y2="544.00" stroke="#505050" stroke-width="1.4"/>
<text x="342.70" y="552.10" font-size="8.8" text-anchor="middle" font-weight="bold" fill="#111" >+Heme</text>
<line x1="425.50" y1="482.50" x2="425.50" y2="476.00" stroke="#111" stroke-width="1.25"/>
<line x1="420.40" y1="476.50" x2="429.80" y2="476.50" stroke="#111" stroke-width="1.25"/>
<rect x="414.60" y="482.50" width="21.00" height="50.30" fill="#ffffff" stroke="#111" stroke-width="1.15"/>
<line x1="449.50" y1="477.80" x2="449.50" y2="471.30" stroke="#111" stroke-width="1.25"/>
<line x1="444.95" y1="471.50" x2="454.35" y2="471.50" stroke="#111" stroke-width="1.25"/>
<rect x="439.50" y="477.80" width="20.30" height="55.00" fill="#000000" stroke="#111" stroke-width="1.15"/>
<line x1="473.50" y1="477.10" x2="473.50" y2="468.70" stroke="#111" stroke-width="1.25"/>
<line x1="468.85" y1="468.50" x2="478.25" y2="468.50" stroke="#111" stroke-width="1.25"/>
<rect x="463.40" y="477.10" width="20.30" height="55.70" fill="#5e5e5e" stroke="#111" stroke-width="1.15"/>
<line x1="497.50" y1="475.20" x2="497.50" y2="466.20" stroke="#111" stroke-width="1.25"/>
<line x1="492.85" y1="466.50" x2="502.25" y2="466.50" stroke="#111" stroke-width="1.25"/>
<rect x="487.30" y="475.20" width="20.50" height="57.60" fill="#a3a3a3" stroke="#111" stroke-width="1.15"/>
<line x1="409.50" y1="456.10" x2="409.50" y2="533.30" stroke="#111" stroke-width="1.15"/>
<line x1="408.60" y1="532.50" x2="510.50" y2="532.50" stroke="#111" stroke-width="1.15"/>
<line x1="407.10" y1="456.50" x2="409.10" y2="456.50" stroke="#111" stroke-width="1.0"/>
<text x="406.80" y="458.36" font-size="4.9" text-anchor="end" font-weight="bold" fill="#111" >1.5</text>
<line x1="407.10" y1="482.50" x2="409.10" y2="482.50" stroke="#111" stroke-width="1.0"/>
<text x="406.80" y="483.76" font-size="4.9" text-anchor="end" font-weight="bold" fill="#111" >1.0</text>
<line x1="407.10" y1="507.50" x2="409.10" y2="507.50" stroke="#111" stroke-width="1.0"/>
<text x="406.80" y="509.16" font-size="4.9" text-anchor="end" font-weight="bold" fill="#111" >0.5</text>
<line x1="407.10" y1="532.50" x2="409.10" y2="532.50" stroke="#111" stroke-width="1.0"/>
<text x="406.80" y="534.56" font-size="4.9" text-anchor="end" font-weight="bold" fill="#111" >0.0</text>
<text x="463.70" y="450.20" font-size="9.3" text-anchor="middle" font-weight="bold" fill="#111">IL-6</text>
<text transform="translate(396.26,500.10) rotate(-90)" font-size="8.0" text-anchor="middle" font-weight="bold" fill="#111">RFU</text>
<text x="425.20" y="541.70" font-size="8.2" text-anchor="middle" font-weight="bold" fill="#111">NT</text>
<text x="451.20" y="541.70" font-size="8.2" text-anchor="middle" font-weight="bold" fill="#111">-</text>
<text x="467.30" y="541.70" font-size="8.2" text-anchor="start" font-weight="bold" fill="#111" textLength="50.1" lengthAdjust="spacingAndGlyphs">NAC TAK-242</text>
<line x1="439.00" y1="544.00" x2="510.40" y2="544.00" stroke="#505050" stroke-width="1.4"/>
<text x="473.30" y="552.10" font-size="8.8" text-anchor="middle" font-weight="bold" fill="#111" >+Heme</text>
<line x1="295.50" y1="601.70" x2="295.50" y2="599.40" stroke="#111" stroke-width="1.25"/>
<line x1="291.20" y1="599.50" x2="300.60" y2="599.50" stroke="#111" stroke-width="1.25"/>
<rect x="285.40" y="601.70" width="21.00" height="49.60" fill="#ffffff" stroke="#111" stroke-width="1.15"/>
<line x1="320.50" y1="616.30" x2="320.50" y2="612.90" stroke="#111" stroke-width="1.25"/>
<line x1="315.85" y1="612.50" x2="325.25" y2="612.50" stroke="#111" stroke-width="1.25"/>
<rect x="310.50" y="616.30" width="20.10" height="35.00" fill="#000000" stroke="#111" stroke-width="1.15"/>
<line x1="344.50" y1="611.10" x2="344.50" y2="608.00" stroke="#111" stroke-width="1.25"/>
<line x1="339.65" y1="608.50" x2="349.05" y2="608.50" stroke="#111" stroke-width="1.25"/>
<rect x="334.20" y="611.10" width="20.30" height="40.20" fill="#5e5e5e" stroke="#111" stroke-width="1.15"/>
<line x1="368.50" y1="611.60" x2="368.50" y2="609.00" stroke="#111" stroke-width="1.25"/>
<line x1="363.60" y1="609.50" x2="373.00" y2="609.50" stroke="#111" stroke-width="1.25"/>
<rect x="358.00" y="611.60" width="20.60" height="39.70" fill="#a3a3a3" stroke="#111" stroke-width="1.15"/>
<line x1="280.50" y1="575.50" x2="280.50" y2="651.80" stroke="#111" stroke-width="1.15"/>
<line x1="279.70" y1="651.50" x2="382.00" y2="651.50" stroke="#111" stroke-width="1.15"/>
<line x1="278.20" y1="576.50" x2="280.20" y2="576.50" stroke="#111" stroke-width="1.0"/>
<text x="277.90" y="577.76" font-size="4.9" text-anchor="end" font-weight="bold" fill="#111" >1.5</text>
<line x1="278.20" y1="601.50" x2="280.20" y2="601.50" stroke="#111" stroke-width="1.0"/>
<text x="277.90" y="602.86" font-size="4.9" text-anchor="end" font-weight="bold" fill="#111" >1.0</text>
<line x1="278.20" y1="626.50" x2="280.20" y2="626.50" stroke="#111" stroke-width="1.0"/>
<text x="277.90" y="627.96" font-size="4.9" text-anchor="end" font-weight="bold" fill="#111" >0.5</text>
<line x1="278.20" y1="651.50" x2="280.20" y2="651.50" stroke="#111" stroke-width="1.0"/>
<text x="277.90" y="653.06" font-size="4.9" text-anchor="end" font-weight="bold" fill="#111" >0.0</text>
<text x="332.40" y="570.40" font-size="9.3" text-anchor="middle" font-weight="bold" fill="#111">Arginase 1</text>
<text transform="translate(266.96,615.50) rotate(-90)" font-size="8.0" text-anchor="middle" font-weight="bold" fill="#111">RFU</text>
<text x="296.50" y="660.20" font-size="8.2" text-anchor="middle" font-weight="bold" fill="#111">NT</text>
<text x="320.70" y="660.20" font-size="8.2" text-anchor="middle" font-weight="bold" fill="#111">-</text>
<text x="334.20" y="660.20" font-size="8.2" text-anchor="start" font-weight="bold" fill="#111" textLength="53.2" lengthAdjust="spacingAndGlyphs">NAC TAK-242</text>
<line x1="309.00" y1="662.70" x2="380.40" y2="662.70" stroke="#505050" stroke-width="1.4"/>
<text x="343.30" y="670.90" font-size="8.8" text-anchor="middle" font-weight="bold" fill="#111" >+Heme</text>
<line x1="424.50" y1="589.50" x2="424.50" y2="583.80" stroke="#111" stroke-width="1.25"/>
<line x1="419.65" y1="583.50" x2="429.05" y2="583.50" stroke="#111" stroke-width="1.25"/>
<rect x="414.10" y="589.50" width="20.50" height="62.30" fill="#ffffff" stroke="#111" stroke-width="1.15"/>
<line x1="448.50" y1="617.30" x2="448.50" y2="614.20" stroke="#111" stroke-width="1.25"/>
<line x1="443.40" y1="614.50" x2="452.80" y2="614.50" stroke="#111" stroke-width="1.25"/>
<rect x="438.20" y="617.30" width="19.80" height="34.50" fill="#000000" stroke="#111" stroke-width="1.15"/>
<line x1="471.50" y1="613.70" x2="471.50" y2="610.30" stroke="#111" stroke-width="1.25"/>
<line x1="466.90" y1="610.50" x2="476.30" y2="610.50" stroke="#111" stroke-width="1.25"/>
<rect x="461.30" y="613.70" width="20.60" height="38.10" fill="#5e5e5e" stroke="#111" stroke-width="1.15"/>
<line x1="495.50" y1="611.10" x2="495.50" y2="608.20" stroke="#111" stroke-width="1.25"/>
<line x1="490.35" y1="608.50" x2="499.75" y2="608.50" stroke="#111" stroke-width="1.25"/>
<rect x="484.90" y="611.10" width="20.30" height="40.70" fill="#a3a3a3" stroke="#111" stroke-width="1.15"/>
<line x1="408.50" y1="576.00" x2="408.50" y2="652.30" stroke="#111" stroke-width="1.15"/>
<line x1="407.90" y1="651.50" x2="508.00" y2="651.50" stroke="#111" stroke-width="1.15"/>
<line x1="406.40" y1="576.50" x2="408.40" y2="576.50" stroke="#111" stroke-width="1.0"/>
<text x="406.10" y="578.26" font-size="4.9" text-anchor="end" font-weight="bold" fill="#111" >1.2</text>
<line x1="406.40" y1="589.50" x2="408.40" y2="589.50" stroke="#111" stroke-width="1.0"/>
<text x="406.10" y="590.81" font-size="4.9" text-anchor="end" font-weight="bold" fill="#111" >1.0</text>
<line x1="406.40" y1="601.50" x2="408.40" y2="601.50" stroke="#111" stroke-width="1.0"/>
<text x="406.10" y="603.36" font-size="4.9" text-anchor="end" font-weight="bold" fill="#111" >0.8</text>
<line x1="406.40" y1="614.50" x2="408.40" y2="614.50" stroke="#111" stroke-width="1.0"/>
<text x="406.10" y="615.91" font-size="4.9" text-anchor="end" font-weight="bold" fill="#111" >0.6</text>
<line x1="406.40" y1="626.50" x2="408.40" y2="626.50" stroke="#111" stroke-width="1.0"/>
<text x="406.10" y="628.46" font-size="4.9" text-anchor="end" font-weight="bold" fill="#111" >0.4</text>
<line x1="406.40" y1="639.50" x2="408.40" y2="639.50" stroke="#111" stroke-width="1.0"/>
<text x="406.10" y="641.01" font-size="4.9" text-anchor="end" font-weight="bold" fill="#111" >0.2</text>
<line x1="406.40" y1="651.50" x2="408.40" y2="651.50" stroke="#111" stroke-width="1.0"/>
<text x="406.10" y="653.56" font-size="4.9" text-anchor="end" font-weight="bold" fill="#111" >0.0</text>
<line x1="424.60" y1="579.50" x2="450.00" y2="579.50" stroke="#555555" stroke-width="0.9"/>
<polygon points="432.45,573.04 433.11,574.63 434.83,574.76 433.52,575.89 433.92,577.56 432.45,576.66 430.98,577.56 431.38,575.89 430.07,574.76 431.79,574.63" fill="#151515"/>
<polygon points="436.90,573.04 437.56,574.63 439.28,574.76 437.97,575.89 438.37,577.56 436.90,576.66 435.43,577.56 435.83,575.89 434.52,574.76 436.24,574.63" fill="#151515"/>
<polygon points="441.35,573.04 442.01,574.63 443.73,574.76 442.42,575.89 442.82,577.56 441.35,576.66 439.88,577.56 440.28,575.89 438.97,574.76 440.69,574.63" fill="#151515"/>
<text x="463.70" y="570.30" font-size="9.3" text-anchor="middle" font-weight="bold" fill="#111">CD206</text>
<text transform="translate(394.66,618.50) rotate(-90)" font-size="8.0" text-anchor="middle" font-weight="bold" fill="#111">RFU</text>
<text x="423.40" y="660.20" font-size="8.2" text-anchor="middle" font-weight="bold" fill="#111">NT</text>
<text x="448.60" y="660.20" font-size="8.2" text-anchor="middle" font-weight="bold" fill="#111">-</text>
<text x="463.40" y="660.20" font-size="8.2" text-anchor="start" font-weight="bold" fill="#111" textLength="50.1" lengthAdjust="spacingAndGlyphs">NAC TAK-242</text>
<line x1="436.90" y1="662.70" x2="507.00" y2="662.70" stroke="#505050" stroke-width="1.4"/>
<text x="470.70" y="670.90" font-size="8.8" text-anchor="middle" font-weight="bold" fill="#111" >+Heme</text>
<text x="2.70" y="12.60" font-size="12.0" text-anchor="start" font-weight="bold" fill="#000" >A</text>
<line x1="14.50" y1="15.50" x2="507.50" y2="15.50" stroke="#444" stroke-width="1.0"/>
<text x="215.3" y="10.6" font-size="11.9" text-anchor="start" font-weight="bold" fill="#000" class="h" textLength="120.4" lengthAdjust="spacingAndGlyphs">Wt vs TLR4-null M0</text>
<rect x="429.6" y="2.1" width="10" height="7" fill="#fff" stroke="#333" stroke-width="1.0"/>
<text x="443.50" y="9.50" font-size="7.8" text-anchor="start" font-weight="bold" fill="#111" >WT</text>
<rect x="463.2" y="2.1" width="10.8" height="7" fill="#c9c9c9" stroke="#444" stroke-width="1.0"/>
<text x="476.70" y="10.50" font-size="7.9" text-anchor="start" font-weight="bold" fill="#222" class="g" textLength="30.8" lengthAdjust="spacingAndGlyphs">TLR4 -/-</text>
<line x1="1.30" y1="284.50" x2="516.80" y2="284.50" stroke="#1a1a1a" stroke-width="1.0"/>
<text x="2.40" y="309.30" font-size="11.9" text-anchor="start" font-weight="bold" fill="#000" >B</text>
<text x="71.2" y="309.6" font-size="11.5" text-anchor="start" font-weight="bold" fill="#111" textLength="105" lengthAdjust="spacingAndGlyphs">Liver Macrophages</text>
<line x1="1.40" y1="314.50" x2="237.50" y2="314.50" stroke="#444" stroke-width="1.0"/>
<text x="271.60" y="309.30" font-size="11.9" text-anchor="start" font-weight="bold" fill="#000" >C</text>
<text x="340.7" y="309.6" font-size="11.5" text-anchor="start" font-weight="bold" fill="#111" textLength="115.5" lengthAdjust="spacingAndGlyphs">Spleen Macrophages</text>
<line x1="272.00" y1="314.50" x2="507.50" y2="314.50" stroke="#444" stroke-width="1.0"/>
</svg>
</body></html>
